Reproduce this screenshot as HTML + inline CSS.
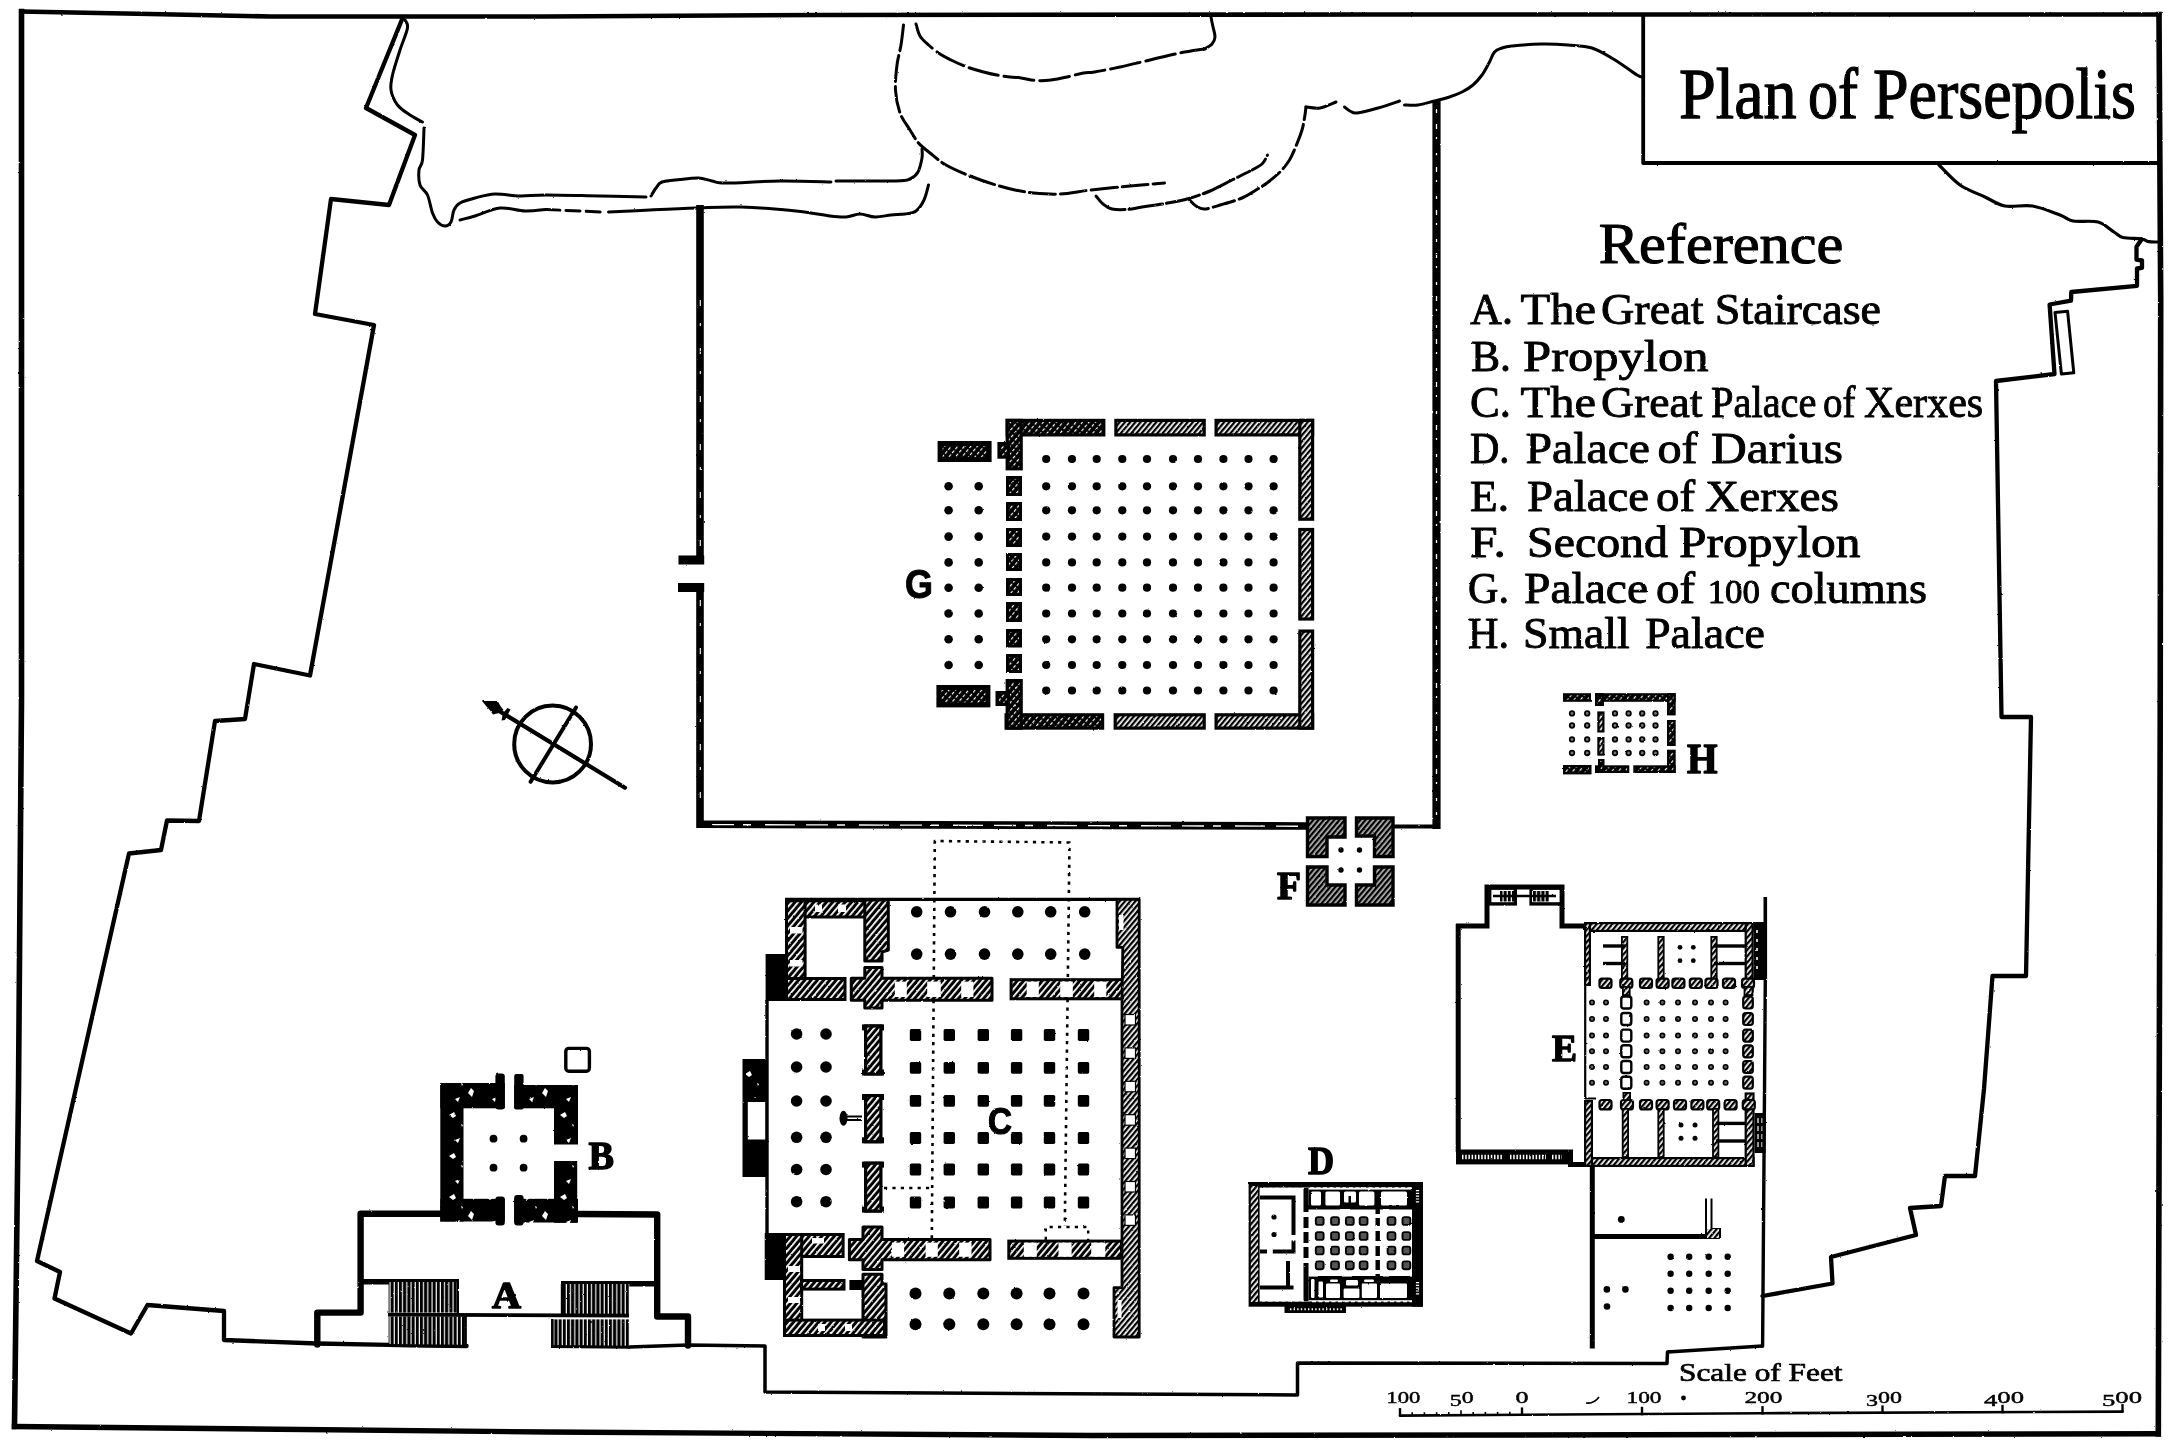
<!DOCTYPE html>
<html><head><meta charset="utf-8"><title>Plan of Persepolis</title>
<style>html,body{margin:0;padding:0;background:#fff;}svg{display:block;}text{fill:#000;}</style></head>
<body>
<svg width="2181" height="1449" viewBox="0 0 2181 1449">
<defs>
<pattern id="h1" width="4" height="4" patternUnits="userSpaceOnUse" patternTransform="rotate(-50)">
<rect width="4" height="4" fill="#fff"/><rect width="4" height="2.3" fill="#000"/></pattern>
<pattern id="h2" width="5" height="5" patternUnits="userSpaceOnUse" patternTransform="rotate(-50)">
<rect width="5" height="5" fill="#000"/><rect width="3.2" height="1.15" fill="#fff"/></pattern>
<pattern id="h3" width="4.8" height="4.8" patternUnits="userSpaceOnUse" patternTransform="rotate(-50)">
<rect width="4.8" height="4.8" fill="#000"/><rect width="4.8" height="1.75" fill="#fff"/></pattern>
<pattern id="spk" width="37" height="41" patternUnits="userSpaceOnUse">
<rect width="37" height="41" fill="#000"/>
<path d="M5,8l5,-3l2,4l-3,2z M24,27l3,-5l3,3l-2,6z M29,6l3,2l-3,3z M11,33l5,-2l-2,5z M17,17l2,1l-1,2z" fill="#fff"/></pattern>
<pattern id="st" width="4.2" height="8" patternUnits="userSpaceOnUse">
<rect width="4.2" height="8" fill="#fff"/><rect width="3.05" height="8" fill="#000"/></pattern>
<filter id="rough" x="0" y="0" width="100%" height="100%" filterUnits="userSpaceOnUse" color-interpolation-filters="sRGB">
<feTurbulence type="fractalNoise" baseFrequency="0.28" numOctaves="2" seed="3" result="n"/>
<feDisplacementMap in="SourceGraphic" in2="n" scale="1.7" xChannelSelector="R" yChannelSelector="G"/></filter>
</defs>
<rect width="2181" height="1449" fill="#fff"/>
<g filter="url(#rough)">
<polyline points="21.5,11.5 150.0,14.0 270.0,16.5 546.0,16.5 820.0,15.0 1365.0,14.5 2159.0,14.5" fill="none" stroke="#000" stroke-width="4.6" stroke-linejoin="round"  stroke-linecap="square"/>
<polyline points="2159.0,14.5 2160.7,300.0 2160.2,726.0 2158.3,1434.0" fill="none" stroke="#000" stroke-width="5.6" stroke-linejoin="round"  stroke-linecap="square"/>
<polyline points="14.5,1426.5 546.0,1432.0 1092.0,1435.5 1638.0,1434.8 2158.3,1433.8" fill="none" stroke="#000" stroke-width="5.4" stroke-linejoin="round"  stroke-linecap="square"/>
<polyline points="21.5,11.5 21.5,700.0 18.5,1089.0 14.5,1426.5" fill="none" stroke="#000" stroke-width="5.6" stroke-linejoin="round"  stroke-linecap="square"/>
<polyline points="1643.2,16.0 1643.2,163.0 2158.0,163.0" fill="none" stroke="#000" stroke-width="3.8" stroke-linejoin="round" stroke-linecap="round" />
<text x="1679.0" y="117.5" style="font-family:'Liberation Serif',serif" font-size="72" font-weight="normal" text-anchor="start" textLength="117.6" lengthAdjust="spacingAndGlyphs" stroke="#000" stroke-width="1.3" stroke-linejoin="round">Plan</text>
<text x="1808.0" y="117.5" style="font-family:'Liberation Serif',serif" font-size="72" font-weight="normal" text-anchor="start" textLength="50.0" lengthAdjust="spacingAndGlyphs" stroke="#000" stroke-width="1.3" stroke-linejoin="round">of</text>
<text x="1873.0" y="117.5" style="font-family:'Liberation Serif',serif" font-size="72" font-weight="normal" text-anchor="start" textLength="263.0" lengthAdjust="spacingAndGlyphs" stroke="#000" stroke-width="1.3" stroke-linejoin="round">Persepolis</text>
<polyline points="403.0,17.0 366.0,108.0 415.0,135.0 389.0,205.0 331.0,199.0 315.0,314.0 374.0,325.0 310.0,675.5 254.0,664.0 245.0,719.0 215.0,721.0 199.0,821.0 167.0,820.5 161.0,850.0 129.0,853.5 37.0,1261.0 60.0,1272.0 54.5,1298.5 131.0,1333.5 147.5,1305.0 224.0,1311.0 224.0,1340.0 317.0,1343.5 388.0,1344.8 466.6,1346.0" fill="none" stroke="#000" stroke-width="4.3" stroke-linejoin="round" stroke-linecap="round" />
<polyline points="629.0,1347.0 688.0,1345.0 765.0,1346.0 765.0,1392.0 1297.5,1395.0 1297.5,1363.0 1667.0,1363.5 1667.5,1352.0 1762.5,1346.0" fill="none" stroke="#000" stroke-width="3.5" stroke-linejoin="round" stroke-linecap="round" />
<path d="M1939.0,165.0 C1942.5,168.3 1952.3,179.7 1960.0,185.0 C1967.7,190.3 1977.5,193.5 1985.0,197.0 C1992.5,200.5 1997.1,204.5 2005.0,206.0 C2012.9,207.5 2023.3,204.5 2032.5,206.0 C2041.7,207.5 2053.2,212.5 2060.0,215.0 C2066.8,217.5 2066.7,219.8 2073.0,221.0 C2079.3,222.2 2091.2,220.2 2098.0,222.0 C2104.8,223.8 2109.8,229.4 2114.0,232.0 C2118.2,234.6 2118.4,236.4 2123.0,237.5 C2127.6,238.6 2137.2,238.1 2141.5,238.8 C2145.8,239.5 2146.2,241.2 2149.0,241.7 C2151.8,242.2 2156.5,241.9 2158.0,242.0" fill="none" stroke="#000" stroke-width="3.2" stroke-linecap="round" stroke-linejoin="round"  />
<polyline points="2141.5,239.5 2136.5,246.7 2136.5,259.7 2142.0,260.5 2142.0,267.8 2137.0,268.5 2137.0,285.8 2071.3,292.0 2071.0,300.7 2049.6,304.5 2054.5,374.0 1996.0,381.0 2001.5,717.0 2031.0,717.0 2026.0,976.0 1992.5,976.0 1984.0,1089.0 1975.0,1176.0 1945.0,1176.0 1941.0,1206.0 1910.0,1208.0 1916.0,1235.0 1831.0,1257.0 1832.5,1283.5 1762.5,1296.0" fill="none" stroke="#000" stroke-width="4.3" stroke-linejoin="round" stroke-linecap="round" />
<polygon points="2055.0,312.5 2067.6,311.3 2073.8,372.8 2061.4,374.0" fill="none" stroke="#000" stroke-width="3" stroke-linejoin="round" stroke-linecap="round" />
<path d="M405.0,20.0 C405.4,21.3 408.3,23.0 407.5,28.0 C406.7,33.0 402.5,42.2 400.0,50.0 C397.5,57.8 394.0,68.3 392.5,75.0 C391.0,81.7 390.2,85.0 391.0,90.0 C391.8,95.0 394.3,100.8 397.5,105.0 C400.7,109.2 405.8,112.2 410.0,115.0 C414.2,117.8 420.4,120.8 422.5,122.0" fill="none" stroke="#000" stroke-width="3.0" stroke-linecap="round" stroke-linejoin="round"  />
<path d="M424.0,128.0 C423.8,133.3 423.3,153.0 422.5,160.0 C421.7,167.0 419.4,165.8 419.0,170.0 C418.6,174.2 418.6,180.8 420.0,185.0 C421.4,189.2 425.4,190.3 427.5,195.0 C429.6,199.7 430.8,208.5 432.5,213.0 C434.2,217.5 435.4,219.8 437.5,222.0 C439.6,224.2 442.8,226.0 445.0,226.0 C447.2,226.0 449.5,224.7 451.0,222.0 C452.5,219.3 452.5,213.2 454.0,210.0 C455.5,206.8 456.5,205.0 460.0,203.0 C463.5,201.0 469.2,199.5 475.0,198.0 C480.8,196.5 487.5,194.3 495.0,194.0 C502.5,193.7 511.5,195.8 520.0,196.0 C528.5,196.2 532.7,195.0 546.0,195.0 C559.3,195.0 583.3,195.7 600.0,196.0 C616.7,196.3 638.3,196.8 646.0,197.0" fill="none" stroke="#000" stroke-width="3.0" stroke-linecap="round" stroke-linejoin="round"  />
<path d="M460.0,220.0 C462.5,219.3 468.3,218.0 475.0,216.0 C481.7,214.0 491.7,208.8 500.0,208.0 C508.3,207.2 517.3,210.8 525.0,211.0 C532.7,211.2 542.5,209.8 546.0,209.5" fill="none" stroke="#000" stroke-width="3.0" stroke-linecap="round" stroke-linejoin="round"  />
<path d="M546.0,209.5 C555.2,209.9 591.8,211.6 601.0,212.0" fill="none" stroke="#000" stroke-width="3.0" stroke-linecap="round" stroke-linejoin="round" stroke-dasharray="14 6" />
<path d="M608.5,212.0 C615.4,211.7 635.4,210.7 650.0,210.0 C664.6,209.3 680.8,208.5 696.0,208.0 C711.2,207.5 724.3,206.5 741.0,207.0 C757.7,207.5 781.2,209.5 796.0,211.0 C810.8,212.5 821.7,215.0 830.0,216.0 C838.3,217.0 841.0,217.3 846.0,217.0 C851.0,216.7 855.2,214.0 860.0,214.0 C864.8,214.0 869.8,216.8 875.0,217.0 C880.2,217.2 886.0,215.5 891.0,215.0 C896.0,214.5 900.8,214.7 905.0,214.0 C909.2,213.3 912.8,213.3 916.0,211.0 C919.2,208.7 921.9,204.3 924.0,200.0 C926.1,195.7 927.8,187.5 928.5,185.0" fill="none" stroke="#000" stroke-width="3.0" stroke-linecap="round" stroke-linejoin="round"  />
<path d="M651.0,196.0 C651.8,194.7 654.2,190.3 656.0,188.0 C657.8,185.7 658.0,183.4 662.0,182.0 C666.0,180.6 673.9,180.2 680.0,179.5 C686.1,178.8 693.2,177.8 698.5,178.0 C703.8,178.2 707.4,180.2 712.0,181.0 C716.6,181.8 714.7,183.0 726.0,183.0 C737.3,183.0 762.5,181.2 780.0,181.0 C797.5,180.8 822.5,181.8 831.0,182.0" fill="none" stroke="#000" stroke-width="3.0" stroke-linecap="round" stroke-linejoin="round"  />
<path d="M836.0,181.0 C846.0,181.0 883.7,181.3 896.0,181.0 C908.3,180.7 906.3,180.5 910.0,179.0 C913.7,177.5 916.0,175.5 918.0,172.0 C920.0,168.5 921.3,161.8 922.0,158.0 C922.7,154.2 922.0,150.5 922.0,149.0" fill="none" stroke="#000" stroke-width="3.0" stroke-linecap="round" stroke-linejoin="round"  />
<path d="M903.5,25.0 C903.1,28.3 902.1,38.3 901.0,45.0 C899.9,51.7 897.9,57.5 897.0,65.0 C896.1,72.5 895.0,82.0 895.5,90.0 C896.0,98.0 897.6,106.3 900.0,113.0 C902.4,119.7 906.9,125.0 910.0,130.0 C913.1,135.0 915.2,139.2 918.5,143.0 C921.8,146.8 925.4,149.3 930.0,153.0 C934.6,156.7 939.3,161.2 946.0,165.0 C952.7,168.8 961.7,172.7 970.0,176.0 C978.3,179.3 988.5,182.7 996.0,185.0 C1003.5,187.3 1008.8,188.7 1015.0,190.0 C1021.2,191.3 1026.0,192.3 1033.5,193.0 C1041.0,193.7 1050.4,194.5 1060.0,194.0 C1069.6,193.5 1079.3,191.3 1091.0,190.0 C1102.7,188.7 1117.8,187.2 1130.0,186.0 C1142.2,184.8 1158.8,183.5 1164.5,183.0" fill="none" stroke="#000" stroke-width="3.0" stroke-linecap="round" stroke-linejoin="round" stroke-dasharray="26 5" />
<path d="M916.0,24.0 C916.7,26.0 917.9,32.5 920.0,36.0 C922.1,39.5 925.2,42.0 928.5,45.0 C931.8,48.0 936.2,51.5 940.0,54.0 C943.8,56.5 946.5,57.8 951.0,60.0 C955.5,62.2 961.6,65.0 967.0,67.0 C972.4,69.0 977.7,70.5 983.5,72.0 C989.3,73.5 995.8,75.0 1002.0,76.0 C1008.2,77.0 1015.3,77.2 1021.0,78.0 C1026.7,78.8 1031.0,80.2 1036.0,80.5 C1041.0,80.8 1045.8,80.6 1051.0,80.0 C1056.2,79.4 1061.6,78.2 1067.0,77.0 C1072.4,75.8 1078.9,73.8 1083.5,73.0 C1088.1,72.2 1088.4,73.0 1094.5,72.0 C1100.6,71.0 1110.8,69.0 1120.0,67.0 C1129.2,65.0 1140.0,62.3 1150.0,60.0 C1160.0,57.7 1170.9,54.8 1180.0,53.0 C1189.1,51.2 1200.4,49.7 1204.5,49.0" fill="none" stroke="#000" stroke-width="3.0" stroke-linecap="round" stroke-linejoin="round" stroke-dasharray="30 6" />
<path d="M1204.5,49.0 C1205.8,48.2 1210.2,46.0 1212.0,44.0 C1213.8,42.0 1214.8,39.8 1215.0,37.0 C1215.2,34.2 1213.7,30.3 1213.0,27.0 C1212.3,23.7 1211.3,18.7 1211.0,17.0" fill="none" stroke="#000" stroke-width="3.0" stroke-linecap="round" stroke-linejoin="round"  />
<path d="M1096.0,196.0 C1097.2,197.3 1100.3,201.8 1103.0,204.0 C1105.7,206.2 1108.0,208.1 1112.0,209.0 C1116.0,209.9 1122.0,209.8 1127.0,209.5 C1132.0,209.2 1135.7,208.0 1142.0,207.0 C1148.3,206.0 1157.5,204.8 1165.0,203.5 C1172.5,202.2 1179.5,201.1 1187.0,199.0 C1194.5,196.9 1202.5,194.2 1210.0,191.0 C1217.5,187.8 1225.3,183.3 1232.0,180.0 C1238.7,176.7 1245.0,173.7 1250.0,171.0 C1255.0,168.3 1259.1,166.7 1262.0,164.0 C1264.9,161.3 1266.6,156.5 1267.5,155.0" fill="none" stroke="#000" stroke-width="3.0" stroke-linecap="round" stroke-linejoin="round" stroke-dasharray="34 4" />
<path d="M1189.5,200.0 C1190.6,201.0 1193.5,204.5 1196.0,206.0 C1198.5,207.5 1200.2,209.2 1204.5,209.0 C1208.8,208.8 1215.8,206.3 1222.0,204.5 C1228.2,202.7 1236.3,200.4 1242.0,198.0 C1247.7,195.6 1251.8,192.5 1256.0,190.0 C1260.2,187.5 1263.0,186.0 1267.0,183.0 C1271.0,180.0 1276.2,175.8 1280.0,172.0 C1283.8,168.2 1286.8,164.3 1289.5,160.0 C1292.2,155.7 1293.9,151.0 1296.0,146.0 C1298.1,141.0 1300.6,134.7 1302.0,130.0 C1303.4,125.3 1303.8,121.8 1304.5,118.0 C1305.2,114.2 1305.8,108.8 1306.0,107.0" fill="none" stroke="#000" stroke-width="3.0" stroke-linecap="round" stroke-linejoin="round" stroke-dasharray="22 5" />
<path d="M1306.0,107.0 C1308.3,107.2 1315.0,108.8 1320.0,108.0 C1325.0,107.2 1333.3,103.0 1336.0,102.0" fill="none" stroke="#000" stroke-width="3.0" stroke-linecap="round" stroke-linejoin="round"  />
<path d="M1344.5,107.0 C1345.4,107.7 1347.9,110.0 1350.0,111.0 C1352.1,112.0 1352.3,113.5 1357.0,113.0 C1361.7,112.5 1370.9,110.0 1378.0,108.0 C1385.1,106.0 1395.9,102.2 1399.5,101.0" fill="none" stroke="#000" stroke-width="3.0" stroke-linecap="round" stroke-linejoin="round"  />
<path d="M1404.5,105.0 C1406.8,105.0 1413.0,105.7 1418.0,105.0 C1423.0,104.3 1429.5,102.2 1434.5,101.0 C1439.5,99.8 1443.4,99.0 1448.0,97.5 C1452.6,96.0 1457.8,94.1 1462.0,92.0 C1466.2,89.9 1469.7,87.8 1473.0,85.0 C1476.3,82.2 1479.3,78.7 1482.0,75.0 C1484.7,71.3 1486.9,66.8 1489.0,63.0 C1491.1,59.2 1492.3,54.5 1494.5,52.0 C1496.7,49.5 1499.1,49.0 1502.0,48.0 C1504.9,47.0 1505.3,46.7 1512.0,46.0 C1518.7,45.3 1532.7,44.2 1542.0,44.0 C1551.3,43.8 1559.7,44.3 1568.0,45.0 C1576.3,45.7 1584.2,45.5 1592.0,48.0 C1599.8,50.5 1607.5,55.5 1615.0,60.0 C1622.5,64.5 1632.3,72.2 1637.0,75.0 C1641.7,77.8 1642.0,76.7 1643.0,77.0" fill="none" stroke="#000" stroke-width="3.0" stroke-linecap="round" stroke-linejoin="round"  />
<polyline points="700.0,205.0 700.0,560.0" fill="none" stroke="#000" stroke-width="7.6" stroke-linejoin="round"  stroke-linecap="butt"/>
<rect x="678.5" y="555.5" width="25.7" height="9.0" fill="#000"  />
<rect x="678.0" y="583.0" width="26.2" height="9.0" fill="#000"  />
<polyline points="700.0,588.0 700.0,824.2 1308.0,826.0" fill="none" stroke="#000" stroke-width="7.6"   stroke-linecap="butt" stroke-linejoin="miter"/>
<polyline points="1393.0,826.0 1436.5,826.0 1436.5,100.0" fill="none" stroke="#000" stroke-width="0.1" stroke-linejoin="round" stroke-linecap="round" />
<line x1="1393.0" y1="826.5" x2="1438.0" y2="826.5" stroke="#000" stroke-width="4.2" />
<line x1="1436.5" y1="829.0" x2="1436.5" y2="100.0" stroke="#000" stroke-width="8.2" />
<path d="M712,824.6 L1300,826.2" stroke="#fff" stroke-width="1.4" stroke-dasharray="22 9 8 14 30 11"/>
<path d="M1436.5,110 V815" stroke="#fff" stroke-width="1.3" stroke-dasharray="3 11 5 8 2 14"/>
<path d="M700.3,600 V815 M700.3,300 V550" stroke="#fff" stroke-width="1.1" stroke-dasharray="6 17 3 22"/>
<rect x="1007.2" y="420.4" width="96.6" height="14.5" fill="url(#h2)" stroke="#000" stroke-width="3.2" />
<rect x="1115.9" y="420.4" width="88.3" height="14.5" fill="url(#h1)" stroke="#000" stroke-width="3.2" />
<rect x="1216.1" y="420.4" width="96.5" height="14.5" fill="url(#h1)" stroke="#000" stroke-width="3.2" />
<rect x="1006.1" y="714.8" width="96.5" height="13.3" fill="url(#h2)" stroke="#000" stroke-width="3.2" />
<rect x="1115.2" y="714.8" width="89.0" height="13.3" fill="url(#h1)" stroke="#000" stroke-width="3.2" />
<rect x="1216.1" y="714.8" width="96.5" height="13.3" fill="url(#h1)" stroke="#000" stroke-width="3.2" />
<rect x="1299.8" y="420.4" width="12.8" height="98.8" fill="url(#h1)" stroke="#000" stroke-width="3.2" />
<rect x="1299.8" y="529.5" width="12.8" height="89.5" fill="url(#h1)" stroke="#000" stroke-width="3.2" />
<rect x="1299.8" y="631.1" width="12.8" height="97.0" fill="url(#h1)" stroke="#000" stroke-width="3.2" />
<rect x="1007.2" y="420.4" width="14.0" height="48.4" fill="url(#h2)" stroke="#000" stroke-width="3.2" />
<rect x="999.0" y="443.6" width="9.4" height="13.5" fill="url(#h2)" stroke="#000" stroke-width="3.2" />
<rect x="1007.2" y="680.6" width="14.0" height="47.5" fill="url(#h2)" stroke="#000" stroke-width="3.2" />
<rect x="997.1" y="692.6" width="11.3" height="11.8" fill="url(#h2)" stroke="#000" stroke-width="3.2" />
<rect x="1007.5" y="477.5" width="13.0" height="17.0" fill="url(#h2)" stroke="#000" stroke-width="3" />
<rect x="1007.5" y="503.5" width="13.0" height="16.0" fill="url(#h2)" stroke="#000" stroke-width="3" />
<rect x="1007.5" y="529.5" width="13.0" height="16.0" fill="url(#h2)" stroke="#000" stroke-width="3" />
<rect x="1007.5" y="554.5" width="13.0" height="15.0" fill="url(#h2)" stroke="#000" stroke-width="3" />
<rect x="1007.5" y="579.5" width="13.0" height="15.0" fill="url(#h2)" stroke="#000" stroke-width="3" />
<rect x="1007.5" y="603.5" width="13.0" height="17.0" fill="url(#h2)" stroke="#000" stroke-width="3" />
<rect x="1007.5" y="630.5" width="13.0" height="15.5" fill="url(#h2)" stroke="#000" stroke-width="3" />
<rect x="1007.5" y="655.5" width="13.0" height="16.0" fill="url(#h2)" stroke="#000" stroke-width="3" />
<rect x="940.1" y="443.5" width="49.0" height="16.0" fill="url(#h2)" stroke="#000" stroke-width="5" />
<rect x="938.9" y="687.5" width="49.0" height="17.4" fill="url(#h2)" stroke="#000" stroke-width="5" />
<circle cx="1046.2" cy="459.0" r="4.1" fill="#000" />
<circle cx="1072.0" cy="459.0" r="4.1" fill="#000" />
<circle cx="1096.7" cy="459.0" r="4.1" fill="#000" />
<circle cx="1122.3" cy="459.0" r="4.1" fill="#000" />
<circle cx="1147.0" cy="459.0" r="4.1" fill="#000" />
<circle cx="1173.0" cy="459.0" r="4.1" fill="#000" />
<circle cx="1198.0" cy="459.0" r="4.1" fill="#000" />
<circle cx="1223.4" cy="459.0" r="4.1" fill="#000" />
<circle cx="1248.5" cy="459.0" r="4.1" fill="#000" />
<circle cx="1273.6" cy="459.0" r="4.1" fill="#000" />
<circle cx="1046.2" cy="486.3" r="4.1" fill="#000" />
<circle cx="1072.0" cy="486.3" r="4.1" fill="#000" />
<circle cx="1096.7" cy="486.3" r="4.1" fill="#000" />
<circle cx="1122.3" cy="486.3" r="4.1" fill="#000" />
<circle cx="1147.0" cy="486.3" r="4.1" fill="#000" />
<circle cx="1173.0" cy="486.3" r="4.1" fill="#000" />
<circle cx="1198.0" cy="486.3" r="4.1" fill="#000" />
<circle cx="1223.4" cy="486.3" r="4.1" fill="#000" />
<circle cx="1248.5" cy="486.3" r="4.1" fill="#000" />
<circle cx="1273.6" cy="486.3" r="4.1" fill="#000" />
<circle cx="1046.2" cy="510.3" r="4.1" fill="#000" />
<circle cx="1072.0" cy="510.3" r="4.1" fill="#000" />
<circle cx="1096.7" cy="510.3" r="4.1" fill="#000" />
<circle cx="1122.3" cy="510.3" r="4.1" fill="#000" />
<circle cx="1147.0" cy="510.3" r="4.1" fill="#000" />
<circle cx="1173.0" cy="510.3" r="4.1" fill="#000" />
<circle cx="1198.0" cy="510.3" r="4.1" fill="#000" />
<circle cx="1223.4" cy="510.3" r="4.1" fill="#000" />
<circle cx="1248.5" cy="510.3" r="4.1" fill="#000" />
<circle cx="1273.6" cy="510.3" r="4.1" fill="#000" />
<circle cx="1046.2" cy="536.6" r="4.1" fill="#000" />
<circle cx="1072.0" cy="536.6" r="4.1" fill="#000" />
<circle cx="1096.7" cy="536.6" r="4.1" fill="#000" />
<circle cx="1122.3" cy="536.6" r="4.1" fill="#000" />
<circle cx="1147.0" cy="536.6" r="4.1" fill="#000" />
<circle cx="1173.0" cy="536.6" r="4.1" fill="#000" />
<circle cx="1198.0" cy="536.6" r="4.1" fill="#000" />
<circle cx="1223.4" cy="536.6" r="4.1" fill="#000" />
<circle cx="1248.5" cy="536.6" r="4.1" fill="#000" />
<circle cx="1273.6" cy="536.6" r="4.1" fill="#000" />
<circle cx="1046.2" cy="562.4" r="4.1" fill="#000" />
<circle cx="1072.0" cy="562.4" r="4.1" fill="#000" />
<circle cx="1096.7" cy="562.4" r="4.1" fill="#000" />
<circle cx="1122.3" cy="562.4" r="4.1" fill="#000" />
<circle cx="1147.0" cy="562.4" r="4.1" fill="#000" />
<circle cx="1173.0" cy="562.4" r="4.1" fill="#000" />
<circle cx="1198.0" cy="562.4" r="4.1" fill="#000" />
<circle cx="1223.4" cy="562.4" r="4.1" fill="#000" />
<circle cx="1248.5" cy="562.4" r="4.1" fill="#000" />
<circle cx="1273.6" cy="562.4" r="4.1" fill="#000" />
<circle cx="1046.2" cy="587.7" r="4.1" fill="#000" />
<circle cx="1072.0" cy="587.7" r="4.1" fill="#000" />
<circle cx="1096.7" cy="587.7" r="4.1" fill="#000" />
<circle cx="1122.3" cy="587.7" r="4.1" fill="#000" />
<circle cx="1147.0" cy="587.7" r="4.1" fill="#000" />
<circle cx="1173.0" cy="587.7" r="4.1" fill="#000" />
<circle cx="1198.0" cy="587.7" r="4.1" fill="#000" />
<circle cx="1223.4" cy="587.7" r="4.1" fill="#000" />
<circle cx="1248.5" cy="587.7" r="4.1" fill="#000" />
<circle cx="1273.6" cy="587.7" r="4.1" fill="#000" />
<circle cx="1046.2" cy="613.5" r="4.1" fill="#000" />
<circle cx="1072.0" cy="613.5" r="4.1" fill="#000" />
<circle cx="1096.7" cy="613.5" r="4.1" fill="#000" />
<circle cx="1122.3" cy="613.5" r="4.1" fill="#000" />
<circle cx="1147.0" cy="613.5" r="4.1" fill="#000" />
<circle cx="1173.0" cy="613.5" r="4.1" fill="#000" />
<circle cx="1198.0" cy="613.5" r="4.1" fill="#000" />
<circle cx="1223.4" cy="613.5" r="4.1" fill="#000" />
<circle cx="1248.5" cy="613.5" r="4.1" fill="#000" />
<circle cx="1273.6" cy="613.5" r="4.1" fill="#000" />
<circle cx="1046.2" cy="639.3" r="4.1" fill="#000" />
<circle cx="1072.0" cy="639.3" r="4.1" fill="#000" />
<circle cx="1096.7" cy="639.3" r="4.1" fill="#000" />
<circle cx="1122.3" cy="639.3" r="4.1" fill="#000" />
<circle cx="1147.0" cy="639.3" r="4.1" fill="#000" />
<circle cx="1173.0" cy="639.3" r="4.1" fill="#000" />
<circle cx="1198.0" cy="639.3" r="4.1" fill="#000" />
<circle cx="1223.4" cy="639.3" r="4.1" fill="#000" />
<circle cx="1248.5" cy="639.3" r="4.1" fill="#000" />
<circle cx="1273.6" cy="639.3" r="4.1" fill="#000" />
<circle cx="1046.2" cy="665.0" r="4.1" fill="#000" />
<circle cx="1072.0" cy="665.0" r="4.1" fill="#000" />
<circle cx="1096.7" cy="665.0" r="4.1" fill="#000" />
<circle cx="1122.3" cy="665.0" r="4.1" fill="#000" />
<circle cx="1147.0" cy="665.0" r="4.1" fill="#000" />
<circle cx="1173.0" cy="665.0" r="4.1" fill="#000" />
<circle cx="1198.0" cy="665.0" r="4.1" fill="#000" />
<circle cx="1223.4" cy="665.0" r="4.1" fill="#000" />
<circle cx="1248.5" cy="665.0" r="4.1" fill="#000" />
<circle cx="1273.6" cy="665.0" r="4.1" fill="#000" />
<circle cx="1046.2" cy="690.5" r="4.1" fill="#000" />
<circle cx="1072.0" cy="690.5" r="4.1" fill="#000" />
<circle cx="1096.7" cy="690.5" r="4.1" fill="#000" />
<circle cx="1122.3" cy="690.5" r="4.1" fill="#000" />
<circle cx="1147.0" cy="690.5" r="4.1" fill="#000" />
<circle cx="1173.0" cy="690.5" r="4.1" fill="#000" />
<circle cx="1198.0" cy="690.5" r="4.1" fill="#000" />
<circle cx="1223.4" cy="690.5" r="4.1" fill="#000" />
<circle cx="1248.5" cy="690.5" r="4.1" fill="#000" />
<circle cx="1273.6" cy="690.5" r="4.1" fill="#000" />
<circle cx="948.6" cy="486.3" r="4.3" fill="#000" />
<circle cx="978.7" cy="486.3" r="4.3" fill="#000" />
<circle cx="948.6" cy="510.3" r="4.3" fill="#000" />
<circle cx="978.7" cy="510.3" r="4.3" fill="#000" />
<circle cx="948.6" cy="536.6" r="4.3" fill="#000" />
<circle cx="978.7" cy="536.6" r="4.3" fill="#000" />
<circle cx="948.6" cy="562.4" r="4.3" fill="#000" />
<circle cx="978.7" cy="562.4" r="4.3" fill="#000" />
<circle cx="948.6" cy="587.7" r="4.3" fill="#000" />
<circle cx="978.7" cy="587.7" r="4.3" fill="#000" />
<circle cx="948.6" cy="613.5" r="4.3" fill="#000" />
<circle cx="978.7" cy="613.5" r="4.3" fill="#000" />
<circle cx="948.6" cy="639.3" r="4.3" fill="#000" />
<circle cx="978.7" cy="639.3" r="4.3" fill="#000" />
<circle cx="948.6" cy="665.0" r="4.3" fill="#000" />
<circle cx="978.7" cy="665.0" r="4.3" fill="#000" />
<text x="905.0" y="597.5" style="font-family:'Liberation Sans',sans-serif" font-size="40" font-weight="bold" text-anchor="start" textLength="28.0" lengthAdjust="spacingAndGlyphs" stroke="#000" stroke-width="0.9">G</text>
<circle cx="552.6" cy="744" r="38.4" fill="none" stroke="#000" stroke-width="4"/>
<line x1="495.0" y1="708.5" x2="625.0" y2="787.7" stroke="#000" stroke-width="4.2" stroke-linecap="round"/>
<line x1="576.0" y1="707.5" x2="530.6" y2="781.8" stroke="#000" stroke-width="4" stroke-linecap="round"/>
<polygon points="482.0,701.0 497.6,701.0 500.5,706.0 503.5,710.0 499.0,713.0 493.0,714.5 490.5,711.0 487.0,707.0" fill="#000"  />
<polygon points="507.5,708.0 510.5,709.5 505.0,720.0 501.5,720.5 503.0,713.0" fill="#000"  />
<rect x="565.8" y="1048.4" width="23.6" height="22.8" rx="3" fill="#fff" stroke="#000" stroke-width="3.4"/>
<rect x="440.3" y="1083.0" width="23.2" height="138.5" fill="url(#spk)"  />
<rect x="440.3" y="1083.0" width="64.5" height="25.3" fill="url(#spk)"  />
<rect x="495.4" y="1073.5" width="9.4" height="36.0" fill="#000"  rx="3"/>
<rect x="514.2" y="1085.0" width="63.8" height="23.3" fill="url(#spk)"  />
<rect x="514.2" y="1074.0" width="9.4" height="35.5" fill="#000"  rx="2"/>
<rect x="554.0" y="1085.0" width="24.0" height="59.5" fill="url(#spk)"  />
<rect x="554.0" y="1161.0" width="23.2" height="61.8" fill="url(#spk)"  />
<rect x="440.3" y="1198.8" width="64.5" height="22.7" fill="url(#spk)"  />
<rect x="495.4" y="1196.5" width="9.4" height="29.1" fill="#000"  rx="3"/>
<rect x="514.2" y="1198.8" width="63.8" height="23.7" fill="url(#spk)"  />
<rect x="514.2" y="1195.0" width="9.4" height="30.6" fill="#000"  rx="3"/>
<circle cx="493.5" cy="1138.7" r="3.9" fill="#000" />
<circle cx="493.5" cy="1167.7" r="3.9" fill="#000" />
<circle cx="523.6" cy="1138.7" r="3.9" fill="#000" />
<circle cx="523.6" cy="1167.7" r="3.9" fill="#000" />
<text x="588.5" y="1169.0" style="font-family:'Liberation Serif',serif" font-size="41" font-weight="bold" text-anchor="start" textLength="25.5" lengthAdjust="spacingAndGlyphs" stroke="#000" stroke-width="1.5" stroke-linejoin="round">B</text>
<polyline points="317.3,1344.5 317.3,1312.6 360.6,1312.6 360.6,1213.8 441.5,1213.8" fill="none" stroke="#000" stroke-width="6.4"  stroke-linecap="round" stroke-linejoin="round"/>
<polyline points="577.3,1214.0 657.2,1214.5 657.2,1316.5 688.0,1316.5 688.0,1345.5" fill="none" stroke="#000" stroke-width="6.4" stroke-linejoin="round" stroke-linecap="round" />
<line x1="360.0" y1="1281.8" x2="459.0" y2="1281.8" stroke="#000" stroke-width="5.6" />
<line x1="561.0" y1="1283.8" x2="657.0" y2="1283.8" stroke="#000" stroke-width="5.6" />
<rect x="388.6" y="1282.0" width="70.3" height="30.6" fill="url(#st)"  />
<rect x="388.6" y="1316.5" width="78.0" height="29.8" fill="url(#st)"  />
<rect x="561.0" y="1284.0" width="68.3" height="30.0" fill="url(#st)"  />
<rect x="551.3" y="1319.4" width="78.0" height="27.9" fill="url(#st)"  />
<line x1="388.0" y1="1314.6" x2="629.0" y2="1315.6" stroke="#000" stroke-width="3.6" />
<line x1="457.8" y1="1282.0" x2="457.8" y2="1313.0" stroke="#000" stroke-width="2.4" />
<line x1="465.5" y1="1316.0" x2="465.5" y2="1347.0" stroke="#000" stroke-width="2.4" />
<line x1="388.0" y1="1345.4" x2="467.0" y2="1346.2" stroke="#000" stroke-width="3" />
<line x1="551.0" y1="1346.6" x2="630.0" y2="1347.2" stroke="#000" stroke-width="3" />
<line x1="552.3" y1="1319.0" x2="552.3" y2="1348.0" stroke="#000" stroke-width="2.4" />
<line x1="562.0" y1="1284.0" x2="562.0" y2="1314.0" stroke="#000" stroke-width="2.4" />
<text x="492.0" y="1307.8" style="font-family:'Liberation Serif',serif" font-size="37" font-weight="bold" text-anchor="start" textLength="29.0" lengthAdjust="spacingAndGlyphs" stroke="#000" stroke-width="1.5" stroke-linejoin="round">A</text>
<line x1="785.0" y1="899.3" x2="1139.0" y2="899.3" stroke="#000" stroke-width="3.2" />
<line x1="767.0" y1="1000.0" x2="767.0" y2="1236.0" stroke="#000" stroke-width="3.4" />
<polyline points="931.8,1238.5 934.8,841.0 1069.5,842.5 1064.8,1226.0" fill="none" stroke="#000" stroke-width="2.6" stroke-linejoin="round"  stroke-dasharray="3.2 5.2" stroke-linecap="butt"/>
<polyline points="884.0,1188.0 931.0,1188.0" fill="none" stroke="#000" stroke-width="2.6" stroke-linejoin="round"  stroke-dasharray="3.2 5.2" stroke-linecap="butt"/>
<polyline points="1045.8,1240.0 1045.8,1227.0 1088.2,1227.0 1088.2,1240.0" fill="none" stroke="#000" stroke-width="2.4" stroke-linejoin="round"  stroke-dasharray="3.2 5.2" stroke-linecap="butt"/>
<rect x="765.6" y="954.0" width="20.4" height="47.0" fill="#000"  />
<rect x="742.5" y="1059.0" width="25.3" height="118.0" fill="#000"  />
<rect x="746.0" y="1062.0" width="18.0" height="36.0" fill="url(#spk)"  />
<rect x="747.8" y="1102.0" width="17.4" height="37.5" fill="#fff"  />
<rect x="764.7" y="1233.0" width="21.3" height="47.0" fill="#000"  />
<rect x="786.5" y="900.8" width="100.3" height="16.2" fill="url(#h3)" stroke="#000" stroke-width="3" />
<rect x="786.5" y="900.8" width="18.6" height="98.7" fill="url(#h3)" stroke="#000" stroke-width="3" />
<polygon points="864.8,900.0 888.3,900.0 888.3,950.0 882.0,952.0 882.0,961.0 864.8,961.0" fill="url(#h3)" stroke="#000" stroke-width="3" stroke-linejoin="round" />
<rect x="786.5" y="978.5" width="58.5" height="21.0" fill="url(#h3)" stroke="#000" stroke-width="3" />
<rect x="790.0" y="927.0" width="12.5" height="6.5" fill="#fff"  />
<rect x="790.0" y="960.0" width="12.5" height="6.5" fill="#fff"  />
<rect x="815.0" y="904.5" width="7.0" height="7.5" fill="#fff"  />
<rect x="838.0" y="904.5" width="8.0" height="7.5" fill="#fff"  />
<polygon points="864.8,967.6 882.0,967.6 882.0,978.2 992.0,978.2 992.0,1000.3 882.0,1000.3 882.0,1008.0 864.8,1008.0 864.8,1000.3 851.3,1000.3 851.3,978.2 864.8,978.2" fill="url(#h3)" stroke="#000" stroke-width="3" stroke-linejoin="round" />
<rect x="894.8" y="981.6" width="12.0" height="15.4" fill="#fff"  />
<rect x="927.2" y="981.6" width="13.6" height="15.4" fill="#fff"  />
<rect x="961.2" y="981.6" width="12.2" height="15.4" fill="#fff"  />
<rect x="1011.1" y="979.7" width="111.4" height="19.1" fill="url(#h3)" stroke="#000" stroke-width="3" />
<rect x="1026.7" y="981.6" width="12.1" height="15.4" fill="#fff"  />
<rect x="1060.2" y="981.6" width="12.6" height="15.4" fill="#fff"  />
<rect x="1094.2" y="981.6" width="12.1" height="15.4" fill="#fff"  />
<polygon points="1117.0,899.3 1139.2,899.3 1139.2,1337.0 1114.0,1337.0 1114.0,1287.7 1122.0,1287.7 1122.0,1260.0 1122.0,1000.3 1122.8,947.4 1117.0,947.4" fill="url(#h1)" stroke="#000" stroke-width="2.8" stroke-linejoin="round" />
<rect x="1125.0" y="1014.5" width="10.5" height="10.5" fill="#fff" stroke="#000" stroke-width="1.2" />
<rect x="1125.0" y="1047.9" width="10.5" height="10.5" fill="#fff" stroke="#000" stroke-width="1.2" />
<rect x="1125.0" y="1081.3" width="10.5" height="10.5" fill="#fff" stroke="#000" stroke-width="1.2" />
<rect x="1125.0" y="1114.7" width="10.5" height="10.5" fill="#fff" stroke="#000" stroke-width="1.2" />
<rect x="1125.0" y="1148.1" width="10.5" height="10.5" fill="#fff" stroke="#000" stroke-width="1.2" />
<rect x="1125.0" y="1181.5" width="10.5" height="10.5" fill="#fff" stroke="#000" stroke-width="1.2" />
<rect x="1125.0" y="1214.9" width="10.5" height="10.5" fill="#fff" stroke="#000" stroke-width="1.2" />
<rect x="1119.0" y="915.0" width="4.5" height="15.0" fill="#fff"  />
<rect x="1117.5" y="1300.0" width="4.0" height="18.0" fill="#fff"  />
<rect x="784.5" y="1234.5" width="58.6" height="22.0" fill="url(#h3)" stroke="#000" stroke-width="3" />
<rect x="784.5" y="1234.5" width="17.2" height="101.0" fill="url(#h3)" stroke="#000" stroke-width="3" />
<rect x="801.5" y="1280.5" width="42.5" height="8.6" fill="url(#h3)" stroke="#000" stroke-width="3" />
<rect x="849.4" y="1280.0" width="14.6" height="10.0" fill="#000"  />
<polygon points="863.0,1274.3 882.0,1274.3 882.0,1284.0 886.0,1284.0 886.0,1337.0 863.0,1337.0" fill="url(#h3)" stroke="#000" stroke-width="3" stroke-linejoin="round" />
<rect x="784.5" y="1320.1" width="100.0" height="15.4" fill="url(#h3)" stroke="#000" stroke-width="3" />
<rect x="788.0" y="1266.0" width="12.0" height="6.0" fill="#fff"  />
<rect x="788.0" y="1297.0" width="12.0" height="6.0" fill="#fff"  />
<rect x="812.0" y="1238.0" width="12.0" height="5.5" fill="#fff"  />
<rect x="818.0" y="1324.0" width="7.0" height="7.0" fill="#fff"  />
<rect x="845.0" y="1324.0" width="7.0" height="7.0" fill="#fff"  />
<polygon points="863.0,1227.0 882.0,1227.0 882.0,1239.6 990.0,1239.6 990.0,1259.8 882.0,1259.8 882.0,1269.5 863.0,1269.5 863.0,1259.8 849.4,1259.8 849.4,1239.6 863.0,1239.6" fill="url(#h3)" stroke="#000" stroke-width="3" stroke-linejoin="round" />
<rect x="891.9" y="1242.6" width="12.2" height="14.2" fill="#fff"  />
<rect x="925.6" y="1242.6" width="12.2" height="14.2" fill="#fff"  />
<rect x="959.2" y="1242.6" width="12.3" height="14.2" fill="#fff"  />
<rect x="1008.8" y="1241.1" width="112.7" height="17.2" fill="url(#h3)" stroke="#000" stroke-width="3" />
<rect x="1023.8" y="1242.6" width="13.0" height="14.2" fill="#fff"  />
<rect x="1058.5" y="1242.6" width="13.1" height="14.2" fill="#fff"  />
<rect x="1091.2" y="1242.6" width="14.1" height="14.2" fill="#fff"  />
<rect x="862.0" y="1024.4" width="22.0" height="6.0" fill="#000"  />
<rect x="862.0" y="1069.5" width="22.0" height="6.0" fill="#000"  />
<rect x="865.6" y="1026.0" width="15.3" height="47.9" fill="url(#h3)" stroke="#000" stroke-width="3.2" />
<rect x="862.0" y="1094.0" width="22.0" height="6.0" fill="#000"  />
<rect x="862.0" y="1137.3" width="22.0" height="6.0" fill="#000"  />
<rect x="865.6" y="1095.6" width="15.3" height="46.1" fill="url(#h3)" stroke="#000" stroke-width="3.2" />
<rect x="862.0" y="1161.6" width="22.0" height="6.0" fill="#000"  />
<rect x="862.0" y="1206.6" width="22.0" height="6.0" fill="#000"  />
<rect x="865.6" y="1163.2" width="15.3" height="47.8" fill="url(#h3)" stroke="#000" stroke-width="3.2" />
<path d="M862,1116.5 H846 M862,1120 H846" stroke="#000" stroke-width="2" fill="none"/>
<ellipse cx="843.5" cy="1118.3" rx="4" ry="7.5" fill="#000"/>
<circle cx="916.7" cy="911.8" r="5.8" fill="#000" />
<circle cx="916.7" cy="954.1" r="5.8" fill="#000" />
<circle cx="915.5" cy="1293.5" r="6" fill="#000" />
<circle cx="915.5" cy="1324.3" r="6" fill="#000" />
<rect x="909.8" y="1029.1" width="11.4" height="11.8" rx="1.6" fill="#000"/>
<rect x="909.8" y="1061.9" width="11.4" height="11.8" rx="1.6" fill="#000"/>
<rect x="909.8" y="1094.9" width="11.4" height="11.8" rx="1.6" fill="#000"/>
<rect x="909.8" y="1132.1" width="11.4" height="11.8" rx="1.6" fill="#000"/>
<rect x="909.8" y="1163.6" width="11.4" height="11.8" rx="1.6" fill="#000"/>
<rect x="909.8" y="1196.6" width="11.4" height="11.8" rx="1.6" fill="#000"/>
<circle cx="950.5" cy="911.8" r="5.8" fill="#000" />
<circle cx="950.5" cy="954.1" r="5.8" fill="#000" />
<circle cx="949.3" cy="1293.5" r="6" fill="#000" />
<circle cx="949.3" cy="1324.3" r="6" fill="#000" />
<rect x="943.6" y="1029.1" width="11.4" height="11.8" rx="1.6" fill="#000"/>
<rect x="943.6" y="1061.9" width="11.4" height="11.8" rx="1.6" fill="#000"/>
<rect x="943.6" y="1094.9" width="11.4" height="11.8" rx="1.6" fill="#000"/>
<rect x="943.6" y="1132.1" width="11.4" height="11.8" rx="1.6" fill="#000"/>
<rect x="943.6" y="1163.6" width="11.4" height="11.8" rx="1.6" fill="#000"/>
<rect x="943.6" y="1196.6" width="11.4" height="11.8" rx="1.6" fill="#000"/>
<circle cx="984.5" cy="911.8" r="5.8" fill="#000" />
<circle cx="984.5" cy="954.1" r="5.8" fill="#000" />
<circle cx="983.3" cy="1293.5" r="6" fill="#000" />
<circle cx="983.3" cy="1324.3" r="6" fill="#000" />
<rect x="977.6" y="1029.1" width="11.4" height="11.8" rx="1.6" fill="#000"/>
<rect x="977.6" y="1061.9" width="11.4" height="11.8" rx="1.6" fill="#000"/>
<rect x="977.6" y="1094.9" width="11.4" height="11.8" rx="1.6" fill="#000"/>
<rect x="977.6" y="1132.1" width="11.4" height="11.8" rx="1.6" fill="#000"/>
<rect x="977.6" y="1163.6" width="11.4" height="11.8" rx="1.6" fill="#000"/>
<rect x="977.6" y="1196.6" width="11.4" height="11.8" rx="1.6" fill="#000"/>
<circle cx="1017.8" cy="911.8" r="5.8" fill="#000" />
<circle cx="1017.8" cy="954.1" r="5.8" fill="#000" />
<circle cx="1016.6" cy="1293.5" r="6" fill="#000" />
<circle cx="1016.6" cy="1324.3" r="6" fill="#000" />
<rect x="1010.9" y="1029.1" width="11.4" height="11.8" rx="1.6" fill="#000"/>
<rect x="1010.9" y="1061.9" width="11.4" height="11.8" rx="1.6" fill="#000"/>
<rect x="1010.9" y="1094.9" width="11.4" height="11.8" rx="1.6" fill="#000"/>
<rect x="1010.9" y="1132.1" width="11.4" height="11.8" rx="1.6" fill="#000"/>
<rect x="1010.9" y="1163.6" width="11.4" height="11.8" rx="1.6" fill="#000"/>
<rect x="1010.9" y="1196.6" width="11.4" height="11.8" rx="1.6" fill="#000"/>
<circle cx="1050.7" cy="911.8" r="5.8" fill="#000" />
<circle cx="1050.7" cy="954.1" r="5.8" fill="#000" />
<circle cx="1049.5" cy="1293.5" r="6" fill="#000" />
<circle cx="1049.5" cy="1324.3" r="6" fill="#000" />
<rect x="1043.8" y="1029.1" width="11.4" height="11.8" rx="1.6" fill="#000"/>
<rect x="1043.8" y="1061.9" width="11.4" height="11.8" rx="1.6" fill="#000"/>
<rect x="1043.8" y="1094.9" width="11.4" height="11.8" rx="1.6" fill="#000"/>
<rect x="1043.8" y="1132.1" width="11.4" height="11.8" rx="1.6" fill="#000"/>
<rect x="1043.8" y="1163.6" width="11.4" height="11.8" rx="1.6" fill="#000"/>
<rect x="1043.8" y="1196.6" width="11.4" height="11.8" rx="1.6" fill="#000"/>
<circle cx="1084.7" cy="911.8" r="5.8" fill="#000" />
<circle cx="1084.7" cy="954.1" r="5.8" fill="#000" />
<circle cx="1083.5" cy="1293.5" r="6" fill="#000" />
<circle cx="1083.5" cy="1324.3" r="6" fill="#000" />
<rect x="1077.8" y="1029.1" width="11.4" height="11.8" rx="1.6" fill="#000"/>
<rect x="1077.8" y="1061.9" width="11.4" height="11.8" rx="1.6" fill="#000"/>
<rect x="1077.8" y="1094.9" width="11.4" height="11.8" rx="1.6" fill="#000"/>
<rect x="1077.8" y="1132.1" width="11.4" height="11.8" rx="1.6" fill="#000"/>
<rect x="1077.8" y="1163.6" width="11.4" height="11.8" rx="1.6" fill="#000"/>
<rect x="1077.8" y="1196.6" width="11.4" height="11.8" rx="1.6" fill="#000"/>
<circle cx="796.6" cy="1034.0" r="5.8" fill="#000" />
<circle cx="796.6" cy="1067.0" r="5.8" fill="#000" />
<circle cx="796.6" cy="1101.0" r="5.8" fill="#000" />
<circle cx="796.6" cy="1137.3" r="5.8" fill="#000" />
<circle cx="796.6" cy="1169.5" r="5.8" fill="#000" />
<circle cx="796.6" cy="1201.7" r="5.8" fill="#000" />
<circle cx="826.0" cy="1034.0" r="5.8" fill="#000" />
<circle cx="826.0" cy="1067.0" r="5.8" fill="#000" />
<circle cx="826.0" cy="1101.0" r="5.8" fill="#000" />
<circle cx="826.0" cy="1137.3" r="5.8" fill="#000" />
<circle cx="826.0" cy="1169.5" r="5.8" fill="#000" />
<circle cx="826.0" cy="1201.7" r="5.8" fill="#000" />
<text x="988.0" y="1133.7" style="font-family:'Liberation Sans',sans-serif" font-size="37" font-weight="bold" text-anchor="start" textLength="24.0" lengthAdjust="spacingAndGlyphs" stroke="#000" stroke-width="1.1">C</text>
<polygon points="1307.5,818.0 1345.0,818.0 1345.0,837.0 1327.0,837.0 1327.0,856.5 1307.5,856.5" fill="url(#h1)"  />
<polygon points="1307.5,818.0 1345.0,818.0 1345.0,837.0 1327.0,837.0 1327.0,856.5 1307.5,856.5" fill="#000" fill-opacity="0.28" stroke="#000" stroke-width="3.4" stroke-linejoin="miter"/>
<polygon points="1356.5,818.0 1393.0,818.0 1393.0,856.5 1374.5,856.5 1374.5,836.0 1356.5,836.0" fill="url(#h1)"  />
<polygon points="1356.5,818.0 1393.0,818.0 1393.0,856.5 1374.5,856.5 1374.5,836.0 1356.5,836.0" fill="#000" fill-opacity="0.28" stroke="#000" stroke-width="3.4" stroke-linejoin="miter"/>
<polygon points="1307.5,867.0 1327.0,867.0 1327.0,885.0 1345.0,885.0 1345.0,905.0 1307.5,905.0" fill="url(#h1)"  />
<polygon points="1307.5,867.0 1327.0,867.0 1327.0,885.0 1345.0,885.0 1345.0,905.0 1307.5,905.0" fill="#000" fill-opacity="0.28" stroke="#000" stroke-width="3.4" stroke-linejoin="miter"/>
<polygon points="1374.5,867.0 1393.0,867.0 1393.0,905.0 1356.5,905.0 1356.5,885.0 1374.5,885.0" fill="url(#h1)"  />
<polygon points="1374.5,867.0 1393.0,867.0 1393.0,905.0 1356.5,905.0 1356.5,885.0 1374.5,885.0" fill="#000" fill-opacity="0.28" stroke="#000" stroke-width="3.4" stroke-linejoin="miter"/>
<circle cx="1341.0" cy="850.0" r="2.7" fill="#000" />
<circle cx="1341.0" cy="870.0" r="2.7" fill="#000" />
<circle cx="1359.5" cy="850.0" r="2.7" fill="#000" />
<circle cx="1359.5" cy="870.0" r="2.7" fill="#000" />
<text x="1277.0" y="898.5" style="font-family:'Liberation Serif',serif" font-size="40" font-weight="bold" text-anchor="start" textLength="24.0" lengthAdjust="spacingAndGlyphs" stroke="#000" stroke-width="1.5" stroke-linejoin="round">F</text>
<rect x="1564.1" y="694.3" width="25.8" height="6.4" fill="url(#h2)" stroke="#000" stroke-width="2.2" />
<rect x="1596.1" y="694.3" width="78.5" height="6.4" fill="url(#h2)" stroke="#000" stroke-width="2.2" />
<rect x="1596.1" y="694.3" width="6.8" height="10.6" fill="url(#h2)" stroke="#000" stroke-width="2.2" />
<rect x="1668.1" y="694.3" width="6.5" height="20.0" fill="url(#h2)" stroke="#000" stroke-width="2.2" />
<rect x="1668.1" y="721.1" width="6.5" height="23.8" fill="url(#h2)" stroke="#000" stroke-width="2.2" />
<rect x="1668.1" y="750.8" width="6.5" height="21.1" fill="url(#h2)" stroke="#000" stroke-width="2.2" />
<rect x="1596.1" y="766.4" width="32.1" height="5.5" fill="url(#h2)" stroke="#000" stroke-width="2.2" />
<rect x="1599.1" y="760.1" width="4.3" height="11.8" fill="url(#h2)" stroke="#000" stroke-width="2.2" />
<rect x="1634.4" y="766.4" width="40.2" height="5.5" fill="url(#h2)" stroke="#000" stroke-width="2.2" />
<rect x="1564.1" y="766.1" width="26.3" height="7.2" fill="url(#h2)" stroke="#000" stroke-width="2.2" />
<rect x="1598.4" y="712.5" width="5.0" height="18.9" fill="url(#h1)" stroke="#000" stroke-width="2.2" />
<rect x="1598.4" y="738.1" width="5.0" height="16.5" fill="url(#h1)" stroke="#000" stroke-width="2.2" />
<circle cx="1572.0" cy="713.4" r="2.3" fill="#777" stroke="#000" stroke-width="1.7"/>
<circle cx="1587.2" cy="713.4" r="2.3" fill="#777" stroke="#000" stroke-width="1.7"/>
<circle cx="1615.0" cy="713.4" r="2.3" fill="#777" stroke="#000" stroke-width="1.7"/>
<circle cx="1628.6" cy="713.4" r="2.3" fill="#777" stroke="#000" stroke-width="1.7"/>
<circle cx="1642.2" cy="713.4" r="2.3" fill="#777" stroke="#000" stroke-width="1.7"/>
<circle cx="1655.5" cy="713.4" r="2.3" fill="#777" stroke="#000" stroke-width="1.7"/>
<circle cx="1572.0" cy="725.5" r="2.3" fill="#777" stroke="#000" stroke-width="1.7"/>
<circle cx="1587.2" cy="725.5" r="2.3" fill="#777" stroke="#000" stroke-width="1.7"/>
<circle cx="1615.0" cy="725.5" r="2.3" fill="#777" stroke="#000" stroke-width="1.7"/>
<circle cx="1628.6" cy="725.5" r="2.3" fill="#777" stroke="#000" stroke-width="1.7"/>
<circle cx="1642.2" cy="725.5" r="2.3" fill="#777" stroke="#000" stroke-width="1.7"/>
<circle cx="1655.5" cy="725.5" r="2.3" fill="#777" stroke="#000" stroke-width="1.7"/>
<circle cx="1572.0" cy="739.4" r="2.3" fill="#777" stroke="#000" stroke-width="1.7"/>
<circle cx="1587.2" cy="739.4" r="2.3" fill="#777" stroke="#000" stroke-width="1.7"/>
<circle cx="1615.0" cy="739.4" r="2.3" fill="#777" stroke="#000" stroke-width="1.7"/>
<circle cx="1628.6" cy="739.4" r="2.3" fill="#777" stroke="#000" stroke-width="1.7"/>
<circle cx="1642.2" cy="739.4" r="2.3" fill="#777" stroke="#000" stroke-width="1.7"/>
<circle cx="1655.5" cy="739.4" r="2.3" fill="#777" stroke="#000" stroke-width="1.7"/>
<circle cx="1572.0" cy="753.0" r="2.3" fill="#777" stroke="#000" stroke-width="1.7"/>
<circle cx="1587.2" cy="753.0" r="2.3" fill="#777" stroke="#000" stroke-width="1.7"/>
<circle cx="1615.0" cy="753.0" r="2.3" fill="#777" stroke="#000" stroke-width="1.7"/>
<circle cx="1628.6" cy="753.0" r="2.3" fill="#777" stroke="#000" stroke-width="1.7"/>
<circle cx="1642.2" cy="753.0" r="2.3" fill="#777" stroke="#000" stroke-width="1.7"/>
<circle cx="1655.5" cy="753.0" r="2.3" fill="#777" stroke="#000" stroke-width="1.7"/>
<text x="1687.0" y="773.0" style="font-family:'Liberation Serif',serif" font-size="42" font-weight="bold" text-anchor="start" textLength="30.5" lengthAdjust="spacingAndGlyphs" stroke="#000" stroke-width="1.5" stroke-linejoin="round">H</text>
<rect x="1248.6" y="1182.0" width="174.4" height="124.7" fill="#000"  />
<rect x="1259.6" y="1187.6" width="152.4" height="113.9" fill="#fff"  />
<rect x="1250.8" y="1186.0" width="7.2" height="116.0" fill="url(#h1)"  />
<rect x="1284.5" y="1306.0" width="61.5" height="7.0" fill="#000"  />
<path d="M1290,1309.3 H1342" stroke="#fff" stroke-width="2" stroke-dasharray="1.4 2.2"/>
<path d="M1260,1197.6 H1293.5 V1235 M1293.5,1240.4 V1251.5 H1272.8 M1267,1251.5 H1260 M1288,1261 V1287.4 M1260,1287.4 H1293.5" fill="none" stroke="#000" stroke-width="4"/>
<circle cx="1274.0" cy="1217.0" r="2.6" fill="#000" />
<circle cx="1274.0" cy="1234.5" r="2.6" fill="#000" />
<path d="M1306,1188 V1212 M1306,1217 V1228 M1306,1232 V1243 M1306,1247 V1258 M1306,1263 V1301" fill="none" stroke="#000" stroke-width="5"/>
<path d="M1377.7,1207 V1214 M1377.7,1218 V1226 M1377.7,1231 V1241 M1377.7,1246 V1256 M1377.7,1260 V1270 M1377.7,1274 V1280" fill="none" stroke="#000" stroke-width="4.4"/>
<path d="M1306,1207.3 H1340 M1350,1207.3 H1383 M1389,1207.3 H1412 M1318,1278.4 H1342 M1352,1278.4 H1383 M1389,1278.4 H1410" fill="none" stroke="#000" stroke-width="4.6"/>
<rect x="1308.5" y="1189.6" width="103.5" height="19.4" fill="#000"  />
<rect x="1311.0" y="1191.6" width="10.0" height="13.8" fill="#fff"  rx="1.5"/>
<rect x="1325.4" y="1191.6" width="14.6" height="13.8" fill="#fff"  rx="1.5"/>
<rect x="1344.0" y="1191.6" width="12.0" height="10.9" fill="#fff"  rx="1.5"/>
<rect x="1359.0" y="1191.6" width="15.4" height="13.8" fill="#fff"  rx="1.5"/>
<rect x="1381.0" y="1191.6" width="26.0" height="13.8" fill="#fff"  rx="1.5"/>
<rect x="1348.5" y="1196.0" width="2.5" height="7.0" fill="#000"  />
<rect x="1308.5" y="1276.6" width="103.5" height="23.6" fill="#000"  />
<rect x="1311.0" y="1279.0" width="3.5" height="19.0" fill="#fff"  rx="1.2"/>
<rect x="1318.5" y="1281.5" width="4.5" height="16.0" fill="#fff"  rx="1.2"/>
<rect x="1326.0" y="1283.5" width="14.0" height="14.5" fill="#fff"  rx="1.2"/>
<rect x="1343.6" y="1288.5" width="15.8" height="9.5" fill="#fff"  rx="1.2"/>
<rect x="1361.8" y="1283.5" width="15.2" height="14.5" fill="#fff"  rx="1.2"/>
<rect x="1380.0" y="1283.5" width="27.0" height="14.5" fill="#fff"  rx="1.2"/>
<rect x="1330.0" y="1279.5" width="8.0" height="2.5" fill="#fff"  rx="1.2"/>
<rect x="1346.0" y="1280.0" width="12.0" height="5.5" fill="#fff"  rx="1.2"/>
<rect x="1364.0" y="1279.5" width="10.0" height="2.5" fill="#fff"  rx="1.2"/>
<path d="M1310,1188 H1412 M1262,1188.3 H1304 M1262,1300.8 H1304 M1312,1301.6 H1412" fill="none" stroke="#fff" stroke-width="1.3" stroke-dasharray="4 2.5"/>
<rect x="1412.0" y="1182.0" width="11.0" height="124.7" fill="#000"  />
<path d="M1417.5,1190 V1204 M1417.5,1282 V1296" stroke="#fff" stroke-width="3.2" stroke-dasharray="1.2 1.6"/>
<rect x="1315.8" y="1217.1" width="7.8" height="7.8" rx="2.2" fill="#555" stroke="#000" stroke-width="1.9"/>
<rect x="1331.1" y="1217.1" width="7.8" height="7.8" rx="2.2" fill="#555" stroke="#000" stroke-width="1.9"/>
<rect x="1345.9" y="1217.1" width="7.8" height="7.8" rx="2.2" fill="#555" stroke="#000" stroke-width="1.9"/>
<rect x="1359.7" y="1217.1" width="7.8" height="7.8" rx="2.2" fill="#555" stroke="#000" stroke-width="1.9"/>
<rect x="1387.6" y="1217.1" width="7.8" height="7.8" rx="2.2" fill="#555" stroke="#000" stroke-width="1.9"/>
<rect x="1402.5" y="1217.1" width="7.8" height="7.8" rx="2.2" fill="#555" stroke="#000" stroke-width="1.9"/>
<rect x="1315.8" y="1232.1" width="7.8" height="7.8" rx="2.2" fill="#555" stroke="#000" stroke-width="1.9"/>
<rect x="1331.1" y="1232.1" width="7.8" height="7.8" rx="2.2" fill="#555" stroke="#000" stroke-width="1.9"/>
<rect x="1345.9" y="1232.1" width="7.8" height="7.8" rx="2.2" fill="#555" stroke="#000" stroke-width="1.9"/>
<rect x="1359.7" y="1232.1" width="7.8" height="7.8" rx="2.2" fill="#555" stroke="#000" stroke-width="1.9"/>
<rect x="1387.6" y="1232.1" width="7.8" height="7.8" rx="2.2" fill="#555" stroke="#000" stroke-width="1.9"/>
<rect x="1402.5" y="1232.1" width="7.8" height="7.8" rx="2.2" fill="#555" stroke="#000" stroke-width="1.9"/>
<rect x="1315.8" y="1246.6" width="7.8" height="7.8" rx="2.2" fill="#555" stroke="#000" stroke-width="1.9"/>
<rect x="1331.1" y="1246.6" width="7.8" height="7.8" rx="2.2" fill="#555" stroke="#000" stroke-width="1.9"/>
<rect x="1345.9" y="1246.6" width="7.8" height="7.8" rx="2.2" fill="#555" stroke="#000" stroke-width="1.9"/>
<rect x="1359.7" y="1246.6" width="7.8" height="7.8" rx="2.2" fill="#555" stroke="#000" stroke-width="1.9"/>
<rect x="1387.6" y="1246.6" width="7.8" height="7.8" rx="2.2" fill="#555" stroke="#000" stroke-width="1.9"/>
<rect x="1402.5" y="1246.6" width="7.8" height="7.8" rx="2.2" fill="#555" stroke="#000" stroke-width="1.9"/>
<rect x="1315.8" y="1261.4" width="7.8" height="7.8" rx="2.2" fill="#555" stroke="#000" stroke-width="1.9"/>
<rect x="1331.1" y="1261.4" width="7.8" height="7.8" rx="2.2" fill="#555" stroke="#000" stroke-width="1.9"/>
<rect x="1345.9" y="1261.4" width="7.8" height="7.8" rx="2.2" fill="#555" stroke="#000" stroke-width="1.9"/>
<rect x="1359.7" y="1261.4" width="7.8" height="7.8" rx="2.2" fill="#555" stroke="#000" stroke-width="1.9"/>
<rect x="1387.6" y="1261.4" width="7.8" height="7.8" rx="2.2" fill="#555" stroke="#000" stroke-width="1.9"/>
<rect x="1402.5" y="1261.4" width="7.8" height="7.8" rx="2.2" fill="#555" stroke="#000" stroke-width="1.9"/>
<text x="1308.0" y="1173.5" style="font-family:'Liberation Serif',serif" font-size="40" font-weight="bold" text-anchor="start" textLength="26.0" lengthAdjust="spacingAndGlyphs" stroke="#000" stroke-width="1.5" stroke-linejoin="round">D</text>
<polyline points="1458.2,1152.0 1458.2,926.0 1487.0,926.0 1487.0,887.0 1562.0,887.0 1562.0,926.0 1584.0,926.0" fill="none" stroke="#000" stroke-width="5"   stroke-linejoin="miter" stroke-linecap="butt"/>
<rect x="1489.7" y="888.2" width="25.6" height="15.7" fill="#fff" stroke="#000" stroke-width="3.4" />
<rect x="1531.1" y="888.2" width="30.2" height="15.7" fill="#fff" stroke="#000" stroke-width="3.4" />
<rect x="1500.0" y="891.0" width="14.0" height="10.5" fill="url(#st)"  />
<rect x="1532.0" y="891.0" width="17.0" height="10.5" fill="url(#st)"  />
<line x1="1493.0" y1="896.0" x2="1556.0" y2="896.0" stroke="#000" stroke-width="2.6" />
<rect x="1456.0" y="1149.5" width="112.3" height="14.9" fill="#000"  />
<path d="M1462,1157 H1503 M1510,1157 H1546 M1552,1157 H1562" stroke="#fff" stroke-width="4.4" stroke-dasharray="1.5 1.7"/>
<polyline points="1568.3,1152.0 1570.5,1152.0 1570.5,1164.5 1586.0,1164.5" fill="none" stroke="#000" stroke-width="5"   stroke-linejoin="miter" stroke-linecap="butt"/>
<rect x="1585.1" y="923.1" width="167.5" height="7.8" fill="url(#h1)" stroke="#000" stroke-width="2.2" />
<rect x="1585.1" y="923.1" width="4.8" height="61.8" fill="url(#h1)" stroke="#000" stroke-width="2.2" />
<rect x="1745.7" y="923.1" width="6.9" height="68.3" fill="url(#h1)" stroke="#000" stroke-width="2.2" />
<rect x="1753.7" y="922.0" width="13.3" height="58.0" fill="#000"  />
<path d="M1757,930 V975" stroke="#fff" stroke-width="1.6" stroke-dasharray="3 6"/>
<rect x="1585.1" y="1158.1" width="168.4" height="7.8" fill="url(#h1)" stroke="#000" stroke-width="2.2" />
<rect x="1585.1" y="1101.1" width="6.8" height="64.8" fill="url(#h1)" stroke="#000" stroke-width="2.2" />
<rect x="1745.7" y="1093.5" width="7.8" height="72.4" fill="url(#h1)" stroke="#000" stroke-width="2.2" />
<rect x="1754.6" y="1113.0" width="10.9" height="40.0" fill="#000"  />
<path d="M1758,1118 V1150 M1762,1118 V1150" stroke="#fff" stroke-width="1.2" stroke-dasharray="5 3"/>
<line x1="1585.2" y1="986.0" x2="1585.2" y2="1099.0" stroke="#000" stroke-width="2.2" />
<line x1="1585.0" y1="1098.5" x2="1596.0" y2="1098.5" stroke="#000" stroke-width="2" />
<line x1="1765.3" y1="897.0" x2="1765.3" y2="980.0" stroke="#000" stroke-width="3.6" />
<polyline points="1765.3,980.0 1764.0,1160.0 1762.6,1346.0" fill="none" stroke="#000" stroke-width="3.4" stroke-linejoin="round" stroke-linecap="round" />
<rect x="1621.9" y="936.9" width="5.4" height="46.2" fill="url(#h1)" stroke="#000" stroke-width="1.8" />
<rect x="1658.3" y="936.9" width="5.4" height="46.2" fill="url(#h1)" stroke="#000" stroke-width="1.8" />
<rect x="1711.3" y="936.9" width="5.4" height="46.2" fill="url(#h1)" stroke="#000" stroke-width="1.8" />
<line x1="1603.0" y1="946.0" x2="1625.0" y2="946.0" stroke="#000" stroke-width="3.4" />
<line x1="1714.0" y1="946.0" x2="1745.0" y2="946.0" stroke="#000" stroke-width="3.4" />
<line x1="1603.0" y1="963.5" x2="1625.0" y2="963.5" stroke="#000" stroke-width="3.4" />
<line x1="1714.0" y1="963.5" x2="1745.0" y2="963.5" stroke="#000" stroke-width="3.4" />
<circle cx="1680.0" cy="947.3" r="2.4" fill="#000" />
<circle cx="1680.0" cy="960.7" r="2.4" fill="#000" />
<circle cx="1693.3" cy="947.3" r="2.4" fill="#000" />
<circle cx="1693.3" cy="960.7" r="2.4" fill="#000" />
<rect x="1599.5" y="978.6" width="12" height="9.4" rx="2.5" fill="url(#h1)" stroke="#000" stroke-width="2.2"/>
<rect x="1620.3" y="978.6" width="12" height="9.4" rx="2.5" fill="url(#h1)" stroke="#000" stroke-width="2.2"/>
<rect x="1640.0" y="978.6" width="12" height="9.4" rx="2.5" fill="url(#h1)" stroke="#000" stroke-width="2.2"/>
<rect x="1656.6" y="978.6" width="12" height="9.4" rx="2.5" fill="url(#h1)" stroke="#000" stroke-width="2.2"/>
<rect x="1672.4" y="978.6" width="12" height="9.4" rx="2.5" fill="url(#h1)" stroke="#000" stroke-width="2.2"/>
<rect x="1689.8" y="978.6" width="12" height="9.4" rx="2.5" fill="url(#h1)" stroke="#000" stroke-width="2.2"/>
<rect x="1705.5" y="978.6" width="12" height="9.4" rx="2.5" fill="url(#h1)" stroke="#000" stroke-width="2.2"/>
<rect x="1723.0" y="978.6" width="12" height="9.4" rx="2.5" fill="url(#h1)" stroke="#000" stroke-width="2.2"/>
<rect x="1742.0" y="978.6" width="12" height="9.4" rx="2.5" fill="url(#h1)" stroke="#000" stroke-width="2.2"/>
<rect x="1622.9" y="986.9" width="6.8" height="8.2" fill="url(#h1)" stroke="#000" stroke-width="1.8" />
<rect x="1744.5" y="986.9" width="8.0" height="8.2" fill="url(#h1)" stroke="#000" stroke-width="1.8" />
<rect x="1621.3" y="996.5" width="10" height="12" rx="2.5" fill="#fff" stroke="#000" stroke-width="2.4"/>
<rect x="1743.2" y="996.5" width="9.6" height="12" rx="2.5" fill="url(#h1)" stroke="#000" stroke-width="2.2"/>
<circle cx="1592.0" cy="1002.5" r="2.2" fill="#666" stroke="#000" stroke-width="1.6"/>
<circle cx="1606.0" cy="1002.5" r="2.2" fill="#666" stroke="#000" stroke-width="1.6"/>
<circle cx="1646.6" cy="1002.5" r="2.2" fill="#666" stroke="#000" stroke-width="1.6"/>
<circle cx="1662.4" cy="1002.5" r="2.2" fill="#666" stroke="#000" stroke-width="1.6"/>
<circle cx="1678.0" cy="1002.5" r="2.2" fill="#666" stroke="#000" stroke-width="1.6"/>
<circle cx="1695.0" cy="1002.5" r="2.2" fill="#666" stroke="#000" stroke-width="1.6"/>
<circle cx="1711.0" cy="1002.5" r="2.2" fill="#666" stroke="#000" stroke-width="1.6"/>
<circle cx="1725.6" cy="1002.5" r="2.2" fill="#666" stroke="#000" stroke-width="1.6"/>
<rect x="1621.3" y="1013.0" width="10" height="12" rx="2.5" fill="#fff" stroke="#000" stroke-width="2.4"/>
<rect x="1743.2" y="1013.0" width="9.6" height="12" rx="2.5" fill="url(#h1)" stroke="#000" stroke-width="2.2"/>
<circle cx="1592.0" cy="1019.0" r="2.2" fill="#666" stroke="#000" stroke-width="1.6"/>
<circle cx="1606.0" cy="1019.0" r="2.2" fill="#666" stroke="#000" stroke-width="1.6"/>
<circle cx="1646.6" cy="1019.0" r="2.2" fill="#666" stroke="#000" stroke-width="1.6"/>
<circle cx="1662.4" cy="1019.0" r="2.2" fill="#666" stroke="#000" stroke-width="1.6"/>
<circle cx="1678.0" cy="1019.0" r="2.2" fill="#666" stroke="#000" stroke-width="1.6"/>
<circle cx="1695.0" cy="1019.0" r="2.2" fill="#666" stroke="#000" stroke-width="1.6"/>
<circle cx="1711.0" cy="1019.0" r="2.2" fill="#666" stroke="#000" stroke-width="1.6"/>
<circle cx="1725.6" cy="1019.0" r="2.2" fill="#666" stroke="#000" stroke-width="1.6"/>
<rect x="1621.3" y="1029.6" width="10" height="12" rx="2.5" fill="#fff" stroke="#000" stroke-width="2.4"/>
<rect x="1743.2" y="1029.6" width="9.6" height="12" rx="2.5" fill="url(#h1)" stroke="#000" stroke-width="2.2"/>
<circle cx="1592.0" cy="1035.6" r="2.2" fill="#666" stroke="#000" stroke-width="1.6"/>
<circle cx="1606.0" cy="1035.6" r="2.2" fill="#666" stroke="#000" stroke-width="1.6"/>
<circle cx="1646.6" cy="1035.6" r="2.2" fill="#666" stroke="#000" stroke-width="1.6"/>
<circle cx="1662.4" cy="1035.6" r="2.2" fill="#666" stroke="#000" stroke-width="1.6"/>
<circle cx="1678.0" cy="1035.6" r="2.2" fill="#666" stroke="#000" stroke-width="1.6"/>
<circle cx="1695.0" cy="1035.6" r="2.2" fill="#666" stroke="#000" stroke-width="1.6"/>
<circle cx="1711.0" cy="1035.6" r="2.2" fill="#666" stroke="#000" stroke-width="1.6"/>
<circle cx="1725.6" cy="1035.6" r="2.2" fill="#666" stroke="#000" stroke-width="1.6"/>
<rect x="1621.3" y="1045.3" width="10" height="12" rx="2.5" fill="#fff" stroke="#000" stroke-width="2.4"/>
<rect x="1743.2" y="1045.3" width="9.6" height="12" rx="2.5" fill="url(#h1)" stroke="#000" stroke-width="2.2"/>
<circle cx="1592.0" cy="1051.3" r="2.2" fill="#666" stroke="#000" stroke-width="1.6"/>
<circle cx="1606.0" cy="1051.3" r="2.2" fill="#666" stroke="#000" stroke-width="1.6"/>
<circle cx="1646.6" cy="1051.3" r="2.2" fill="#666" stroke="#000" stroke-width="1.6"/>
<circle cx="1662.4" cy="1051.3" r="2.2" fill="#666" stroke="#000" stroke-width="1.6"/>
<circle cx="1678.0" cy="1051.3" r="2.2" fill="#666" stroke="#000" stroke-width="1.6"/>
<circle cx="1695.0" cy="1051.3" r="2.2" fill="#666" stroke="#000" stroke-width="1.6"/>
<circle cx="1711.0" cy="1051.3" r="2.2" fill="#666" stroke="#000" stroke-width="1.6"/>
<circle cx="1725.6" cy="1051.3" r="2.2" fill="#666" stroke="#000" stroke-width="1.6"/>
<rect x="1621.3" y="1061.0" width="10" height="12" rx="2.5" fill="#fff" stroke="#000" stroke-width="2.4"/>
<rect x="1743.2" y="1061.0" width="9.6" height="12" rx="2.5" fill="url(#h1)" stroke="#000" stroke-width="2.2"/>
<circle cx="1592.0" cy="1067.0" r="2.2" fill="#666" stroke="#000" stroke-width="1.6"/>
<circle cx="1606.0" cy="1067.0" r="2.2" fill="#666" stroke="#000" stroke-width="1.6"/>
<circle cx="1646.6" cy="1067.0" r="2.2" fill="#666" stroke="#000" stroke-width="1.6"/>
<circle cx="1662.4" cy="1067.0" r="2.2" fill="#666" stroke="#000" stroke-width="1.6"/>
<circle cx="1678.0" cy="1067.0" r="2.2" fill="#666" stroke="#000" stroke-width="1.6"/>
<circle cx="1695.0" cy="1067.0" r="2.2" fill="#666" stroke="#000" stroke-width="1.6"/>
<circle cx="1711.0" cy="1067.0" r="2.2" fill="#666" stroke="#000" stroke-width="1.6"/>
<circle cx="1725.6" cy="1067.0" r="2.2" fill="#666" stroke="#000" stroke-width="1.6"/>
<rect x="1621.3" y="1076.7" width="10" height="12" rx="2.5" fill="#fff" stroke="#000" stroke-width="2.4"/>
<rect x="1743.2" y="1076.7" width="9.6" height="12" rx="2.5" fill="url(#h1)" stroke="#000" stroke-width="2.2"/>
<circle cx="1592.0" cy="1082.7" r="2.2" fill="#666" stroke="#000" stroke-width="1.6"/>
<circle cx="1606.0" cy="1082.7" r="2.2" fill="#666" stroke="#000" stroke-width="1.6"/>
<circle cx="1646.6" cy="1082.7" r="2.2" fill="#666" stroke="#000" stroke-width="1.6"/>
<circle cx="1662.4" cy="1082.7" r="2.2" fill="#666" stroke="#000" stroke-width="1.6"/>
<circle cx="1678.0" cy="1082.7" r="2.2" fill="#666" stroke="#000" stroke-width="1.6"/>
<circle cx="1695.0" cy="1082.7" r="2.2" fill="#666" stroke="#000" stroke-width="1.6"/>
<circle cx="1711.0" cy="1082.7" r="2.2" fill="#666" stroke="#000" stroke-width="1.6"/>
<circle cx="1725.6" cy="1082.7" r="2.2" fill="#666" stroke="#000" stroke-width="1.6"/>
<rect x="1599.5" y="1100" width="12" height="9.4" rx="2.5" fill="url(#h1)" stroke="#000" stroke-width="2.2"/>
<rect x="1621.0" y="1100" width="12" height="9.4" rx="2.5" fill="url(#h1)" stroke="#000" stroke-width="2.2"/>
<rect x="1640.0" y="1100" width="12" height="9.4" rx="2.5" fill="url(#h1)" stroke="#000" stroke-width="2.2"/>
<rect x="1656.6" y="1100" width="12" height="9.4" rx="2.5" fill="url(#h1)" stroke="#000" stroke-width="2.2"/>
<rect x="1674.0" y="1100" width="12" height="9.4" rx="2.5" fill="url(#h1)" stroke="#000" stroke-width="2.2"/>
<rect x="1691.4" y="1100" width="12" height="9.4" rx="2.5" fill="url(#h1)" stroke="#000" stroke-width="2.2"/>
<rect x="1707.2" y="1100" width="12" height="9.4" rx="2.5" fill="url(#h1)" stroke="#000" stroke-width="2.2"/>
<rect x="1724.6" y="1100" width="12" height="9.4" rx="2.5" fill="url(#h1)" stroke="#000" stroke-width="2.2"/>
<rect x="1742.8" y="1100" width="12" height="9.4" rx="2.5" fill="url(#h1)" stroke="#000" stroke-width="2.2"/>
<rect x="1623.4" y="1092.9" width="6.7" height="7.2" fill="url(#h1)" stroke="#000" stroke-width="1.8" />
<rect x="1622.7" y="1108.9" width="5.4" height="48.2" fill="url(#h1)" stroke="#000" stroke-width="1.8" />
<rect x="1658.3" y="1108.9" width="5.4" height="48.2" fill="url(#h1)" stroke="#000" stroke-width="1.8" />
<rect x="1713.0" y="1108.9" width="5.4" height="48.2" fill="url(#h1)" stroke="#000" stroke-width="1.8" />
<line x1="1716.0" y1="1123.4" x2="1745.0" y2="1123.4" stroke="#000" stroke-width="3.4" />
<line x1="1716.0" y1="1141.0" x2="1745.0" y2="1141.0" stroke="#000" stroke-width="3.4" />
<circle cx="1681.0" cy="1125.0" r="2.5" fill="#000" />
<circle cx="1681.0" cy="1138.3" r="2.5" fill="#000" />
<circle cx="1695.0" cy="1125.0" r="2.5" fill="#000" />
<circle cx="1695.0" cy="1138.3" r="2.5" fill="#000" />
<text x="1552.0" y="1061.0" style="font-family:'Liberation Serif',serif" font-size="38" font-weight="bold" text-anchor="start" textLength="25.0" lengthAdjust="spacingAndGlyphs" stroke="#000" stroke-width="1.5" stroke-linejoin="round">E</text>
<line x1="1592.3" y1="1167.0" x2="1592.3" y2="1348.5" stroke="#000" stroke-width="5" />
<line x1="1592.0" y1="1236.5" x2="1719.8" y2="1236.5" stroke="#000" stroke-width="5" />
<path d="M1706,1198.4 V1234 M1711.5,1198.4 V1229 H1720 V1238" fill="none" stroke="#000" stroke-width="2"/>
<rect x="1707.0" y="1229.0" width="12.0" height="9.0" fill="url(#h1)"  />
<circle cx="1621.3" cy="1219.4" r="3.4" fill="#000" />
<circle cx="1670.6" cy="1256.8" r="3.2" fill="#000" />
<circle cx="1689.2" cy="1256.8" r="3.2" fill="#000" />
<circle cx="1708.7" cy="1256.8" r="3.2" fill="#000" />
<circle cx="1727.7" cy="1256.8" r="3.2" fill="#000" />
<circle cx="1670.6" cy="1273.7" r="3.2" fill="#000" />
<circle cx="1689.2" cy="1273.7" r="3.2" fill="#000" />
<circle cx="1708.7" cy="1273.7" r="3.2" fill="#000" />
<circle cx="1727.7" cy="1273.7" r="3.2" fill="#000" />
<circle cx="1670.6" cy="1290.8" r="3.2" fill="#000" />
<circle cx="1689.2" cy="1290.8" r="3.2" fill="#000" />
<circle cx="1708.7" cy="1290.8" r="3.2" fill="#000" />
<circle cx="1727.7" cy="1290.8" r="3.2" fill="#000" />
<circle cx="1670.6" cy="1308.0" r="3.2" fill="#000" />
<circle cx="1689.2" cy="1308.0" r="3.2" fill="#000" />
<circle cx="1708.7" cy="1308.0" r="3.2" fill="#000" />
<circle cx="1727.7" cy="1308.0" r="3.2" fill="#000" />
<circle cx="1606.9" cy="1289.4" r="3.3" fill="#000" />
<circle cx="1625.4" cy="1289.4" r="3.3" fill="#000" />
<circle cx="1607.0" cy="1306.5" r="3.3" fill="#000" />
<text x="1598.8" y="262.5" style="font-family:'Liberation Serif',serif" font-size="56" font-weight="normal" text-anchor="start" textLength="244.6" lengthAdjust="spacingAndGlyphs" stroke="#000" stroke-width="1.1" stroke-linejoin="round">Reference</text>
<text x="1470.0" y="324.0" style="font-family:'Liberation Serif',serif" font-size="44" font-weight="normal" text-anchor="start" textLength="43.0" lengthAdjust="spacingAndGlyphs" stroke="#000" stroke-width="0.9" stroke-linejoin="round">A.</text>
<text x="1520.6" y="324.0" style="font-family:'Liberation Serif',serif" font-size="44" font-weight="normal" text-anchor="start" textLength="75.4" lengthAdjust="spacingAndGlyphs" stroke="#000" stroke-width="0.9" stroke-linejoin="round">The</text>
<text x="1601.0" y="324.0" style="font-family:'Liberation Serif',serif" font-size="44" font-weight="normal" text-anchor="start" textLength="102.5" lengthAdjust="spacingAndGlyphs" stroke="#000" stroke-width="0.9" stroke-linejoin="round">Great</text>
<text x="1714.8" y="324.0" style="font-family:'Liberation Serif',serif" font-size="44" font-weight="normal" text-anchor="start" textLength="166.2" lengthAdjust="spacingAndGlyphs" stroke="#000" stroke-width="0.9" stroke-linejoin="round">Staircase</text>
<text x="1471.0" y="371.0" style="font-family:'Liberation Serif',serif" font-size="44" font-weight="normal" text-anchor="start" textLength="40.0" lengthAdjust="spacingAndGlyphs" stroke="#000" stroke-width="0.9" stroke-linejoin="round">B.</text>
<text x="1523.0" y="371.0" style="font-family:'Liberation Serif',serif" font-size="44" font-weight="normal" text-anchor="start" textLength="185.5" lengthAdjust="spacingAndGlyphs" stroke="#000" stroke-width="0.9" stroke-linejoin="round">Propylon</text>
<text x="1470.0" y="417.4" style="font-family:'Liberation Serif',serif" font-size="44" font-weight="normal" text-anchor="start" textLength="41.0" lengthAdjust="spacingAndGlyphs" stroke="#000" stroke-width="0.9" stroke-linejoin="round">C.</text>
<text x="1520.6" y="417.4" style="font-family:'Liberation Serif',serif" font-size="44" font-weight="normal" text-anchor="start" textLength="75.4" lengthAdjust="spacingAndGlyphs" stroke="#000" stroke-width="0.9" stroke-linejoin="round">The</text>
<text x="1601.0" y="417.4" style="font-family:'Liberation Serif',serif" font-size="44" font-weight="normal" text-anchor="start" textLength="101.5" lengthAdjust="spacingAndGlyphs" stroke="#000" stroke-width="0.9" stroke-linejoin="round">Great</text>
<text x="1711.0" y="417.4" style="font-family:'Liberation Serif',serif" font-size="44" font-weight="normal" text-anchor="start" textLength="105.5" lengthAdjust="spacingAndGlyphs" stroke="#000" stroke-width="0.9" stroke-linejoin="round">Palace</text>
<text x="1823.0" y="417.4" style="font-family:'Liberation Serif',serif" font-size="44" font-weight="normal" text-anchor="start" textLength="32.5" lengthAdjust="spacingAndGlyphs" stroke="#000" stroke-width="0.9" stroke-linejoin="round">of</text>
<text x="1864.0" y="417.4" style="font-family:'Liberation Serif',serif" font-size="44" font-weight="normal" text-anchor="start" textLength="119.2" lengthAdjust="spacingAndGlyphs" stroke="#000" stroke-width="0.9" stroke-linejoin="round">Xerxes</text>
<text x="1470.0" y="463.0" style="font-family:'Liberation Serif',serif" font-size="44" font-weight="normal" text-anchor="start" textLength="39.5" lengthAdjust="spacingAndGlyphs" stroke="#000" stroke-width="0.9" stroke-linejoin="round">D.</text>
<text x="1525.6" y="463.0" style="font-family:'Liberation Serif',serif" font-size="44" font-weight="normal" text-anchor="start" textLength="124.4" lengthAdjust="spacingAndGlyphs" stroke="#000" stroke-width="0.9" stroke-linejoin="round">Palace</text>
<text x="1657.5" y="463.0" style="font-family:'Liberation Serif',serif" font-size="44" font-weight="normal" text-anchor="start" textLength="40.1" lengthAdjust="spacingAndGlyphs" stroke="#000" stroke-width="0.9" stroke-linejoin="round">of</text>
<text x="1711.0" y="463.0" style="font-family:'Liberation Serif',serif" font-size="44" font-weight="normal" text-anchor="start" textLength="132.0" lengthAdjust="spacingAndGlyphs" stroke="#000" stroke-width="0.9" stroke-linejoin="round">Darius</text>
<text x="1470.0" y="510.5" style="font-family:'Liberation Serif',serif" font-size="44" font-weight="normal" text-anchor="start" textLength="39.0" lengthAdjust="spacingAndGlyphs" stroke="#000" stroke-width="0.9" stroke-linejoin="round">E.</text>
<text x="1527.0" y="510.5" style="font-family:'Liberation Serif',serif" font-size="44" font-weight="normal" text-anchor="start" textLength="122.0" lengthAdjust="spacingAndGlyphs" stroke="#000" stroke-width="0.9" stroke-linejoin="round">Palace</text>
<text x="1656.0" y="510.5" style="font-family:'Liberation Serif',serif" font-size="44" font-weight="normal" text-anchor="start" textLength="39.0" lengthAdjust="spacingAndGlyphs" stroke="#000" stroke-width="0.9" stroke-linejoin="round">of</text>
<text x="1705.0" y="510.5" style="font-family:'Liberation Serif',serif" font-size="44" font-weight="normal" text-anchor="start" textLength="134.0" lengthAdjust="spacingAndGlyphs" stroke="#000" stroke-width="0.9" stroke-linejoin="round">Xerxes</text>
<text x="1470.0" y="557.0" style="font-family:'Liberation Serif',serif" font-size="44" font-weight="normal" text-anchor="start" textLength="36.0" lengthAdjust="spacingAndGlyphs" stroke="#000" stroke-width="0.9" stroke-linejoin="round">F.</text>
<text x="1527.0" y="557.0" style="font-family:'Liberation Serif',serif" font-size="44" font-weight="normal" text-anchor="start" textLength="141.0" lengthAdjust="spacingAndGlyphs" stroke="#000" stroke-width="0.9" stroke-linejoin="round">Second</text>
<text x="1679.0" y="557.0" style="font-family:'Liberation Serif',serif" font-size="44" font-weight="normal" text-anchor="start" textLength="181.5" lengthAdjust="spacingAndGlyphs" stroke="#000" stroke-width="0.9" stroke-linejoin="round">Propylon</text>
<text x="1468.0" y="603.0" style="font-family:'Liberation Serif',serif" font-size="44" font-weight="normal" text-anchor="start" textLength="41.0" lengthAdjust="spacingAndGlyphs" stroke="#000" stroke-width="0.9" stroke-linejoin="round">G.</text>
<text x="1524.0" y="603.0" style="font-family:'Liberation Serif',serif" font-size="44" font-weight="normal" text-anchor="start" textLength="124.0" lengthAdjust="spacingAndGlyphs" stroke="#000" stroke-width="0.9" stroke-linejoin="round">Palace</text>
<text x="1656.0" y="603.0" style="font-family:'Liberation Serif',serif" font-size="44" font-weight="normal" text-anchor="start" textLength="39.0" lengthAdjust="spacingAndGlyphs" stroke="#000" stroke-width="0.9" stroke-linejoin="round">of</text>
<text x="1707.7" y="603.0" style="font-family:'Liberation Serif',serif" font-size="33" font-weight="normal" text-anchor="start" textLength="52.3" lengthAdjust="spacingAndGlyphs" stroke="#000" stroke-width="0.9" stroke-linejoin="round">100</text>
<text x="1770.0" y="603.0" style="font-family:'Liberation Serif',serif" font-size="44" font-weight="normal" text-anchor="start" textLength="157.0" lengthAdjust="spacingAndGlyphs" stroke="#000" stroke-width="0.9" stroke-linejoin="round">columns</text>
<text x="1468.0" y="648.0" style="font-family:'Liberation Serif',serif" font-size="44" font-weight="normal" text-anchor="start" textLength="41.0" lengthAdjust="spacingAndGlyphs" stroke="#000" stroke-width="0.9" stroke-linejoin="round">H.</text>
<text x="1523.0" y="648.0" style="font-family:'Liberation Serif',serif" font-size="44" font-weight="normal" text-anchor="start" textLength="106.6" lengthAdjust="spacingAndGlyphs" stroke="#000" stroke-width="0.9" stroke-linejoin="round">Small</text>
<text x="1645.0" y="648.0" style="font-family:'Liberation Serif',serif" font-size="44" font-weight="normal" text-anchor="start" textLength="120.0" lengthAdjust="spacingAndGlyphs" stroke="#000" stroke-width="0.9" stroke-linejoin="round">Palace</text>
<text x="1679.0" y="1381.4" style="font-family:'Liberation Serif',serif" font-size="26" font-weight="normal" text-anchor="start" textLength="163.5" lengthAdjust="spacingAndGlyphs" stroke="#000" stroke-width="0.7">Scale of Feet</text>
<polyline points="1400.0,1415.6 1522.0,1414.8 1762.0,1413.2 2122.5,1411.6" fill="none" stroke="#000" stroke-width="2.6" stroke-linejoin="round" stroke-linecap="round" />
<line x1="1400.0" y1="1416.6" x2="1400.0" y2="1408.1" stroke="#000" stroke-width="2.4" />
<line x1="1522.0" y1="1415.9" x2="1522.0" y2="1407.4" stroke="#000" stroke-width="2.4" />
<line x1="1642.0" y1="1415.3" x2="1642.0" y2="1406.8" stroke="#000" stroke-width="2.4" />
<line x1="1762.5" y1="1414.6" x2="1762.5" y2="1406.1" stroke="#000" stroke-width="2.4" />
<line x1="1882.5" y1="1413.9" x2="1882.5" y2="1405.4" stroke="#000" stroke-width="2.4" />
<line x1="2002.5" y1="1413.3" x2="2002.5" y2="1404.8" stroke="#000" stroke-width="2.4" />
<line x1="2122.5" y1="1412.6" x2="2122.5" y2="1404.1" stroke="#000" stroke-width="2.4" />
<line x1="1412.2" y1="1415.5" x2="1412.2" y2="1412.3" stroke="#000" stroke-width="1.6" />
<line x1="1424.4" y1="1415.5" x2="1424.4" y2="1412.3" stroke="#000" stroke-width="1.6" />
<line x1="1436.6" y1="1415.4" x2="1436.6" y2="1412.2" stroke="#000" stroke-width="1.6" />
<line x1="1448.8" y1="1415.3" x2="1448.8" y2="1412.1" stroke="#000" stroke-width="1.6" />
<line x1="1461.0" y1="1415.3" x2="1461.0" y2="1410.3" stroke="#000" stroke-width="1.6" />
<line x1="1473.2" y1="1415.2" x2="1473.2" y2="1412.0" stroke="#000" stroke-width="1.6" />
<line x1="1485.4" y1="1415.1" x2="1485.4" y2="1411.9" stroke="#000" stroke-width="1.6" />
<line x1="1497.6" y1="1415.1" x2="1497.6" y2="1411.9" stroke="#000" stroke-width="1.6" />
<line x1="1509.8" y1="1415.0" x2="1509.8" y2="1411.8" stroke="#000" stroke-width="1.6" />
<text x="1386.3" y="1402.6" style="font-family:'Liberation Serif',serif" font-size="17.5" font-weight="normal" text-anchor="start" textLength="34.0" lengthAdjust="spacingAndGlyphs" stroke="#000" stroke-width="0.45">100</text>
<text x="1449.8" y="1402.6" style="font-family:'Liberation Serif',serif" font-size="17.5" font-weight="normal" text-anchor="start" textLength="24.0" lengthAdjust="spacingAndGlyphs" stroke="#000" stroke-width="0.45"><tspan dy="3.6">5</tspan><tspan dy="-3.6">0</tspan></text>
<text x="1515.5" y="1402.6" style="font-family:'Liberation Serif',serif" font-size="17.5" font-weight="normal" text-anchor="start" textLength="13.0" lengthAdjust="spacingAndGlyphs" stroke="#000" stroke-width="0.45">0</text>
<text x="1626.5" y="1402.6" style="font-family:'Liberation Serif',serif" font-size="17.5" font-weight="normal" text-anchor="start" textLength="35.0" lengthAdjust="spacingAndGlyphs" stroke="#000" stroke-width="0.45">100</text>
<text x="1744.4" y="1402.6" style="font-family:'Liberation Serif',serif" font-size="17.5" font-weight="normal" text-anchor="start" textLength="38.0" lengthAdjust="spacingAndGlyphs" stroke="#000" stroke-width="0.45">200</text>
<text x="1866.0" y="1402.6" style="font-family:'Liberation Serif',serif" font-size="17.5" font-weight="normal" text-anchor="start" textLength="36.0" lengthAdjust="spacingAndGlyphs" stroke="#000" stroke-width="0.45"><tspan dy="3.6">3</tspan><tspan dy="-3.6">00</tspan></text>
<text x="1984.0" y="1402.6" style="font-family:'Liberation Serif',serif" font-size="17.5" font-weight="normal" text-anchor="start" textLength="40.0" lengthAdjust="spacingAndGlyphs" stroke="#000" stroke-width="0.45"><tspan dy="3.6">4</tspan><tspan dy="-3.6">00</tspan></text>
<text x="2102.0" y="1402.6" style="font-family:'Liberation Serif',serif" font-size="17.5" font-weight="normal" text-anchor="start" textLength="40.0" lengthAdjust="spacingAndGlyphs" stroke="#000" stroke-width="0.45"><tspan dy="3.6">5</tspan><tspan dy="-3.6">00</tspan></text>
<circle cx="1683.5" cy="1398.0" r="2.4" fill="#000" />
<path d="M1586,1403 q8,1 13,-6" fill="none" stroke="#000" stroke-width="1.6"/>
</g></svg>
</body></html>
